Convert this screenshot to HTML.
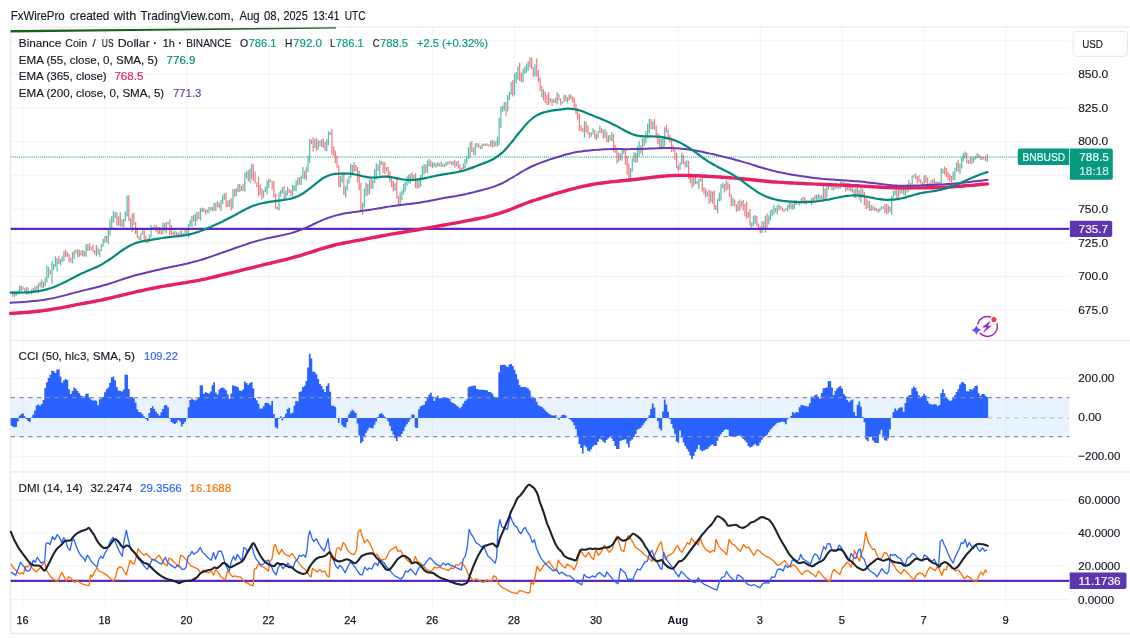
<!DOCTYPE html>
<html lang="en"><head><meta charset="utf-8"><title>BNBUSD chart</title>
<style>html,body{margin:0;padding:0;background:#fff}body{width:1130px;height:638px;overflow:hidden}svg{display:block}</style>
</head><body>
<svg width="1130" height="638" viewBox="0 0 1130 638" font-family="'Liberation Sans', sans-serif">
<rect width="1130" height="638" fill="#fff"/>
<g stroke="#f2f3f6" stroke-width="1" shape-rendering="auto">
<line x1="23.0" y1="27" x2="23.0" y2="605.5"/>
<line x1="104.9" y1="27" x2="104.9" y2="605.5"/>
<line x1="186.8" y1="27" x2="186.8" y2="605.5"/>
<line x1="268.8" y1="27" x2="268.8" y2="605.5"/>
<line x1="350.7" y1="27" x2="350.7" y2="605.5"/>
<line x1="432.6" y1="27" x2="432.6" y2="605.5"/>
<line x1="514.5" y1="27" x2="514.5" y2="605.5"/>
<line x1="596.4" y1="27" x2="596.4" y2="605.5"/>
<line x1="678.4" y1="27" x2="678.4" y2="605.5"/>
<line x1="760.3" y1="27" x2="760.3" y2="605.5"/>
<line x1="842.2" y1="27" x2="842.2" y2="605.5"/>
<line x1="924.1" y1="27" x2="924.1" y2="605.5"/>
<line x1="1006.0" y1="27" x2="1006.0" y2="605.5"/>
<line x1="10.6" y1="40.25" x2="1069.3" y2="40.25"/>
<line x1="10.6" y1="74.00" x2="1069.3" y2="74.00"/>
<line x1="10.6" y1="107.75" x2="1069.3" y2="107.75"/>
<line x1="10.6" y1="141.50" x2="1069.3" y2="141.50"/>
<line x1="10.6" y1="175.25" x2="1069.3" y2="175.25"/>
<line x1="10.6" y1="209.00" x2="1069.3" y2="209.00"/>
<line x1="10.6" y1="242.75" x2="1069.3" y2="242.75"/>
<line x1="10.6" y1="276.50" x2="1069.3" y2="276.50"/>
<line x1="10.6" y1="310.25" x2="1069.3" y2="310.25"/>
<line x1="10.6" y1="378.3" x2="1069.3" y2="378.3"/>
<line x1="10.6" y1="456.3" x2="1069.3" y2="456.3"/>
<line x1="10.6" y1="500.0" x2="1069.3" y2="500.0"/>
<line x1="10.6" y1="533.3" x2="1069.3" y2="533.3"/>
<line x1="10.6" y1="566.2" x2="1069.3" y2="566.2"/>
<line x1="10.6" y1="599.5" x2="1069.3" y2="599.5"/>
</g>
<g stroke="#e9eaee" stroke-width="1.2">
<line x1="10.6" y1="27" x2="1130" y2="27"/>
<line x1="10.6" y1="27" x2="10.6" y2="633.7"/>
<line x1="10.6" y1="340.3" x2="1130" y2="340.3"/>
<line x1="10.6" y1="471.9" x2="1130" y2="471.9"/>
<line x1="10.6" y1="633.7" x2="1130" y2="633.7"/>
</g>
<line x1="10.6" y1="157" x2="1017.5" y2="157" stroke="#089981" stroke-width="1.2" stroke-dasharray="1.05 1.05" opacity="1"/>
<path d="M12.76,291.5V296.5M16.17,292.0V295.9M17.88,290.6V294.8M19.59,285.7V293.3M21.29,285.6V291.1M26.41,287.1V294.8M29.83,291.2V294.1M31.53,289.0V294.6M34.95,286.5V292.9M38.36,283.5V293.4M40.07,281.5V287.0M43.48,281.8V288.1M45.19,277.3V286.1M46.89,265.7V282.4M48.60,267.2V277.8M52.01,261.3V283.8M53.72,263.9V270.1M55.43,256.2V266.7M57.13,258.0V271.5M60.55,259.0V265.4M62.25,256.5V262.0M63.96,251.1V261.1M72.49,252.1V263.6M74.20,250.3V258.7M79.32,249.7V256.8M82.73,250.0V256.6M86.15,244.1V256.7M87.85,244.3V251.1M96.39,245.0V256.2M99.80,249.2V256.9M101.51,244.1V251.0M103.21,238.7V246.5M104.92,235.9V242.8M108.33,228.2V244.3M110.04,219.3V235.5M111.75,216.3V227.9M113.45,211.1V222.7M115.16,212.3V218.1M120.28,212.2V226.6M123.69,219.1V227.4M125.40,211.3V221.3M127.11,195.5V216.4M132.23,213.8V231.8M140.76,232.9V242.0M142.47,230.5V234.4M149.29,234.6V242.2M151.00,225.1V237.8M152.71,226.9V229.6M154.41,225.2V227.6M159.53,227.1V233.9M162.95,222.5V234.1M166.36,222.1V233.3M168.07,222.3V224.6M174.89,230.8V235.4M180.01,230.9V235.6M183.43,233.3V236.1M185.13,229.3V236.5M188.55,223.7V237.4M190.25,219.7V226.4M191.96,215.9V227.0M195.37,213.5V226.1M197.08,211.7V220.9M200.49,208.3V220.4M202.20,207.4V212.0M207.32,209.6V212.7M209.03,206.8V213.2M212.44,206.8V211.4M214.15,202.6V210.8M217.56,201.1V207.2M220.97,199.9V211.0M222.68,194.8V204.0M224.39,193.3V199.8M229.51,199.8V206.8M232.92,189.1V208.5M236.33,188.0V196.1M238.04,184.1V192.2M241.45,185.7V191.1M244.87,172.7V191.7M246.57,171.3V178.4M249.99,168.4V183.2M251.69,163.6V179.6M263.64,190.4V197.7M265.35,186.7V192.0M267.05,180.5V194.7M268.76,178.8V188.0M279.00,192.3V210.5M280.71,190.1V196.4M282.41,187.0V193.4M285.83,190.4V199.0M287.53,186.7V195.4M292.65,185.1V196.2M294.36,185.5V190.9M296.07,180.4V191.6M297.77,177.5V185.8M301.19,175.5V185.1M302.89,166.8V178.7M306.31,167.1V180.6M308.01,155.5V172.3M309.72,138.7V163.2M314.84,138.8V148.2M318.25,140.3V149.6M321.67,139.3V146.9M326.79,139.1V151.2M328.49,131.3V145.3M330.20,132.0V134.9M340.44,175.9V187.2M342.15,174.7V182.6M345.56,186.0V197.7M347.27,179.2V190.5M348.97,175.9V183.7M350.68,163.8V178.1M354.09,162.3V172.2M362.63,202.8V214.7M364.33,188.8V207.6M366.04,182.4V196.3M369.45,179.8V194.6M372.87,179.7V188.8M374.57,169.2V183.3M376.28,163.1V179.6M379.69,160.6V175.3M381.40,160.8V165.0M386.52,166.9V171.5M395.05,183.3V190.7M400.17,192.4V204.9M401.88,190.2V200.2M403.59,183.7V194.5M405.29,181.9V191.6M407.00,176.2V185.9M408.71,174.4V183.6M410.41,173.7V183.6M413.83,174.8V180.6M418.95,178.5V188.1M420.65,175.1V186.5M422.36,165.6V178.6M424.07,164.0V174.8M427.48,160.5V173.3M429.19,158.8V166.2M432.60,162.2V168.1M436.01,163.2V167.7M437.72,162.1V166.7M441.13,161.6V167.1M444.55,163.7V167.0M446.25,161.7V165.7M447.96,161.4V164.9M453.08,161.1V165.8M456.49,161.8V166.2M463.32,163.5V169.3M465.03,159.1V168.6M466.73,156.3V163.7M468.44,147.2V159.0M470.15,141.9V157.2M475.27,143.2V155.3M476.97,143.0V147.6M482.09,143.5V149.1M485.51,143.4V146.0M490.63,140.7V146.6M494.04,140.7V146.8M497.45,136.8V146.4M499.16,117.7V144.9M500.87,106.6V128.1M502.57,105.7V112.0M504.28,102.0V110.7M507.69,94.9V111.5M509.40,91.8V100.1M511.11,82.2V94.7M514.52,74.0V95.1M516.23,72.1V83.6M517.93,66.4V79.8M523.05,68.6V82.4M524.76,66.4V73.8M526.47,63.4V72.8M528.17,61.2V70.9M535.00,64.2V76.2M543.53,89.1V100.2M550.36,98.3V102.6M553.77,99.6V102.9M557.19,91.9V104.5M562.31,101.4V103.7M564.01,94.8V102.3M567.43,97.2V103.3M570.84,94.3V99.3M584.49,121.1V137.4M591.32,132.3V136.7M593.03,128.3V134.3M598.15,131.1V138.0M599.85,125.6V132.9M604.97,129.0V138.0M608.39,135.3V142.4M611.80,132.2V141.3M618.63,152.5V161.7M622.04,149.6V160.7M623.75,150.3V153.9M630.57,167.9V182.1M632.28,158.2V171.4M633.99,151.9V162.0M637.40,146.1V162.5M639.11,141.3V156.2M642.52,138.3V155.7M644.23,138.2V146.2M645.93,131.0V143.3M647.64,123.4V138.3M649.35,118.9V133.6M652.76,121.6V129.8M661.29,138.9V149.4M663.00,136.5V147.4M664.71,127.2V146.3M680.07,162.2V170.1M681.77,152.7V164.6M686.89,160.2V167.6M693.72,177.6V186.1M697.13,181.0V184.3M698.84,178.4V189.2M700.55,178.5V181.5M707.37,191.4V196.6M710.79,190.8V202.2M717.61,198.8V213.2M719.32,192.5V201.3M721.03,184.1V200.6M722.73,182.4V188.6M726.15,180.3V190.4M732.97,197.4V205.9M738.09,201.1V211.1M741.51,201.0V207.3M748.33,211.8V217.8M751.75,222.4V227.7M753.45,215.7V225.9M755.16,215.1V223.7M761.99,221.2V233.0M765.40,215.7V232.4M768.81,215.4V224.6M770.52,210.3V220.6M772.23,209.3V216.0M773.93,205.1V214.6M777.35,205.4V214.5M779.05,204.6V210.4M785.88,208.1V210.6M787.59,205.2V211.6M789.29,202.5V208.7M792.71,203.7V209.8M794.41,200.2V208.8M796.12,200.6V205.1M799.53,201.1V205.6M801.24,198.3V203.8M808.07,199.9V203.3M811.48,198.2V205.3M813.19,197.3V201.8M816.60,194.7V200.9M818.31,194.2V199.4M823.43,185.1V199.8M826.84,184.5V197.5M828.55,183.7V189.7M830.25,184.0V187.1M833.67,187.1V190.2M835.37,182.9V188.4M838.79,184.2V188.8M840.49,181.4V188.3M842.20,181.9V184.6M847.32,183.4V190.3M850.73,186.1V191.3M855.85,188.2V198.6M857.56,186.6V195.8M860.97,187.2V202.8M867.80,200.5V208.3M871.21,204.9V211.1M876.33,207.9V211.3M879.75,208.5V211.7M881.45,206.0V209.4M883.16,206.4V208.8M888.28,205.3V213.3M891.69,196.1V214.8M893.40,191.0V197.6M895.11,189.7V195.3M898.52,189.6V198.8M901.93,189.0V193.5M905.35,188.4V195.7M907.05,184.2V192.8M910.47,182.9V190.1M912.17,175.5V187.7M913.88,174.4V177.5M924.12,175.6V187.3M930.95,180.3V189.2M936.07,181.3V188.9M939.48,181.8V188.4M941.19,167.8V184.3M942.89,168.8V173.4M953.13,171.5V180.7M954.84,167.7V179.9M956.55,162.3V171.6M959.96,163.5V174.3M961.67,156.9V168.4M963.37,153.1V161.5M965.08,151.6V158.6M970.20,157.0V163.5M973.61,157.2V162.7M975.32,156.1V159.4M977.03,153.3V158.5M982.15,156.8V160.2M987.27,153.9V162.2" stroke="#089981" stroke-width="1.25" fill="none" opacity=".66"/>
<path d="M14.47,290.7V297.2M23.00,286.5V289.7M24.71,288.2V292.6M28.12,287.5V294.4M33.24,287.9V293.0M36.65,286.0V289.7M41.77,279.3V287.9M50.31,270.2V274.6M58.84,255.7V264.1M65.67,249.5V257.1M67.37,251.9V256.7M69.08,254.0V262.3M70.79,257.5V262.5M75.91,249.8V253.7M77.61,249.3V257.3M81.03,250.5V255.5M84.44,250.9V256.5M89.56,243.6V250.4M91.27,246.7V250.1M92.97,244.5V252.3M94.68,250.2V254.3M98.09,247.4V254.6M106.63,235.8V242.3M116.87,212.3V225.4M118.57,216.3V225.9M121.99,219.5V227.0M128.81,195.3V220.9M130.52,217.8V227.3M133.93,212.7V224.9M135.64,222.0V234.1M137.35,230.0V237.9M139.05,236.2V240.3M144.17,229.4V240.9M145.88,235.5V242.9M147.59,238.5V243.2M156.12,224.8V232.0M157.83,226.6V234.4M161.24,227.7V234.6M164.65,222.9V231.2M169.77,219.4V235.8M171.48,225.1V234.9M173.19,231.4V237.4M176.60,231.4V235.8M178.31,232.8V236.3M181.72,229.2V236.2M186.84,227.7V235.5M193.67,215.1V221.7M198.79,211.8V219.1M203.91,208.1V212.2M205.61,209.6V214.7M210.73,207.1V210.6M215.85,203.1V211.3M219.27,202.8V208.5M226.09,192.5V207.1M227.80,200.4V207.2M231.21,198.3V210.6M234.63,189.1V196.8M239.75,183.8V192.1M243.16,184.1V190.8M248.28,170.0V181.6M253.40,164.2V181.1M255.11,171.8V183.4M256.81,182.5V187.3M258.52,176.4V196.6M260.23,184.6V195.1M261.93,188.3V199.4M270.47,179.8V182.2M272.17,181.0V189.3M273.88,181.1V197.5M275.59,193.2V208.7M277.29,207.1V209.5M284.12,186.1V199.3M289.24,188.7V193.0M290.95,190.0V196.2M299.48,177.0V184.8M304.60,170.6V179.2M311.43,139.5V144.3M313.13,137.5V151.5M316.55,138.0V151.1M319.96,140.6V146.0M323.37,138.5V147.9M325.08,141.8V151.0M331.91,129.0V154.7M333.61,146.3V155.9M335.32,150.4V163.3M337.03,155.8V167.7M338.73,165.2V187.3M343.85,172.1V195.1M352.39,165.1V174.9M355.80,165.1V171.2M357.51,167.3V182.5M359.21,170.7V190.0M360.92,182.9V212.3M367.75,183.8V195.6M371.16,178.9V189.3M377.99,164.5V171.0M383.11,161.7V172.8M384.81,162.2V173.9M388.23,166.9V177.9M389.93,171.2V182.1M391.64,176.6V187.2M393.35,180.9V191.4M396.76,177.0V198.7M398.47,196.0V204.9M412.12,172.2V179.8M415.53,173.2V188.0M417.24,180.3V188.8M425.77,164.3V172.7M430.89,160.6V167.0M434.31,162.3V166.5M439.43,163.2V166.2M442.84,163.6V166.9M449.67,160.7V163.4M451.37,162.1V164.7M454.79,159.8V168.1M458.20,161.1V168.4M459.91,164.3V170.2M461.61,167.6V170.0M471.85,141.0V151.9M473.56,147.4V154.9M478.68,143.2V147.7M480.39,145.9V149.3M483.80,143.7V145.9M487.21,143.5V145.9M488.92,144.2V146.6M492.33,139.4V147.8M495.75,141.5V146.3M505.99,101.7V115.8M512.81,79.9V96.5M519.64,62.7V81.0M521.35,72.4V82.2M529.88,57.5V67.6M531.59,57.8V69.0M533.29,67.1V76.7M536.71,58.6V76.4M538.41,70.0V82.2M540.12,77.4V91.2M541.83,85.8V97.3M545.24,91.7V103.1M546.95,94.8V104.9M548.65,92.0V104.9M552.07,98.6V106.1M555.48,97.4V103.1M558.89,93.9V100.3M560.60,98.2V105.0M565.72,95.0V101.1M569.13,94.4V100.7M572.55,96.4V102.6M574.25,97.4V107.7M575.96,103.5V114.0M577.67,108.7V119.7M579.37,113.8V130.7M581.08,124.9V131.3M582.79,128.0V132.5M586.20,122.0V132.5M587.91,125.4V134.8M589.61,132.3V138.3M594.73,130.0V138.6M596.44,133.9V140.0M601.56,127.7V133.0M603.27,129.4V138.8M606.68,131.4V141.9M610.09,135.0V140.8M613.51,133.9V151.4M615.21,144.7V153.1M616.92,147.5V163.5M620.33,153.2V160.3M625.45,149.5V165.1M627.16,155.8V174.8M628.87,163.6V181.8M635.69,153.1V163.0M640.81,145.6V153.5M651.05,119.0V129.1M654.47,118.8V129.4M656.17,125.5V138.2M657.88,133.1V144.3M659.59,135.1V147.8M666.41,124.9V132.4M668.12,129.6V139.9M669.83,134.9V142.8M671.53,140.2V152.1M673.24,144.7V151.6M674.95,148.0V159.9M676.65,153.0V168.5M678.36,165.2V171.4M683.48,154.7V164.0M685.19,161.2V167.2M688.60,160.7V178.9M690.31,175.8V183.1M692.01,176.2V188.3M695.43,176.5V184.2M702.25,175.8V191.4M703.96,187.0V194.4M705.67,188.4V197.4M709.08,189.8V203.7M712.49,191.4V203.8M714.20,190.4V209.5M715.91,204.8V210.1M724.44,183.9V192.5M727.85,181.6V189.4M729.56,184.1V196.8M731.27,193.9V206.5M734.68,199.4V206.3M736.39,204.2V211.9M739.80,199.4V210.7M743.21,199.9V210.6M744.92,203.7V216.5M746.63,201.5V218.7M750.04,208.9V226.2M756.87,216.1V226.6M758.57,223.6V228.8M760.28,226.5V233.3M763.69,221.6V229.7M767.11,213.4V227.7M775.64,208.1V212.6M780.76,205.8V209.3M782.47,207.6V211.3M784.17,209.2V212.0M791.00,202.4V209.3M797.83,201.2V204.6M802.95,196.8V200.9M804.65,197.4V204.3M806.36,199.9V204.4M809.77,200.7V203.1M814.89,195.0V202.3M820.01,195.0V200.2M821.72,195.5V199.1M825.13,188.8V199.1M831.96,182.9V190.2M837.08,184.1V188.8M843.91,182.2V187.4M845.61,183.3V191.6M849.03,183.1V190.5M852.44,186.7V192.7M854.15,189.4V198.1M859.27,190.0V199.3M862.68,188.5V197.0M864.39,191.7V205.3M866.09,195.8V209.0M869.51,200.7V211.1M872.92,205.5V210.2M874.63,207.1V211.1M878.04,209.0V213.1M884.87,203.9V213.1M886.57,203.8V214.4M889.99,206.7V212.0M896.81,188.7V198.0M900.23,189.1V194.3M903.64,186.6V195.0M908.76,179.7V191.4M915.59,173.4V178.9M917.29,176.1V183.6M919.00,175.2V181.9M920.71,179.2V183.4M922.41,182.0V185.4M925.83,175.0V182.7M927.53,177.4V184.7M929.24,183.0V188.1M932.65,179.5V186.8M934.36,178.4V189.6M937.77,181.8V189.7M944.60,166.6V174.6M946.31,168.1V177.1M948.01,171.7V180.2M949.72,174.0V181.5M951.43,176.0V182.4M958.25,159.8V172.1M966.79,152.6V163.3M968.49,159.7V163.8M971.91,156.3V164.1M978.73,154.1V157.7M980.44,155.7V159.8M983.85,156.8V159.5M985.56,156.1V161.1" stroke="#f23645" stroke-width="1.25" fill="none" opacity=".66"/>
<line x1="10.6" y1="228.9" x2="1069.3" y2="228.9" stroke="#5b2bb8" stroke-width="2.3"/>
<path d="M10.6,313.4C11.4,313.3 13.9,313.2 15.6,313.1C17.3,313.0 18.9,312.9 20.6,312.8C22.3,312.7 23.9,312.5 25.6,312.4C27.3,312.3 28.9,312.1 30.6,312.0C32.3,311.9 34.0,311.7 35.6,311.5C37.3,311.4 39.0,311.2 40.6,311.0C42.3,310.8 44.0,310.5 45.6,310.3C47.3,310.1 49.0,309.8 50.7,309.5C52.3,309.3 54.0,309.0 55.7,308.7C57.3,308.4 59.0,308.1 60.7,307.8C62.3,307.5 64.0,307.1 65.7,306.8C67.4,306.5 69.0,306.1 70.7,305.8C72.4,305.5 74.0,305.2 75.7,304.9C77.4,304.6 79.0,304.2 80.7,303.9C82.4,303.6 84.1,303.3 85.7,303.0C87.4,302.7 89.1,302.4 90.7,302.1C92.4,301.7 94.1,301.4 95.7,301.1C97.4,300.8 99.1,300.4 100.8,300.1C102.4,299.8 104.1,299.4 105.8,299.0C107.4,298.7 109.1,298.3 110.8,297.9C112.4,297.5 114.1,297.1 115.8,296.7C117.5,296.3 119.1,295.9 120.8,295.5C122.5,295.1 124.1,294.7 125.8,294.3C127.5,293.9 129.1,293.5 130.8,293.1C132.5,292.7 134.2,292.3 135.8,291.9C137.5,291.5 139.2,291.2 140.8,290.8C142.5,290.4 144.2,290.1 145.8,289.7C147.5,289.4 149.2,289.0 150.9,288.7C152.5,288.4 154.2,288.0 155.9,287.7C157.5,287.4 159.2,287.0 160.9,286.7C162.5,286.4 164.2,286.1 165.9,285.8C167.6,285.5 169.2,285.2 170.9,285.0C172.6,284.7 174.2,284.4 175.9,284.1C177.6,283.9 179.2,283.6 180.9,283.3C182.6,283.1 184.3,282.8 185.9,282.6C187.6,282.3 189.3,282.0 190.9,281.7C192.6,281.4 194.3,281.1 195.9,280.8C197.6,280.5 199.3,280.2 201.0,279.8C202.6,279.5 204.3,279.1 206.0,278.8C207.6,278.4 209.3,278.0 211.0,277.7C212.6,277.3 214.3,276.9 216.0,276.5C217.7,276.1 219.3,275.7 221.0,275.2C222.7,274.8 224.3,274.4 226.0,274.0C227.7,273.6 229.3,273.2 231.0,272.8C232.7,272.4 234.4,272.0 236.0,271.6C237.7,271.2 239.4,270.7 241.0,270.3C242.7,269.9 244.4,269.5 246.0,269.1C247.7,268.7 249.4,268.3 251.1,267.9C252.7,267.5 254.4,267.1 256.1,266.6C257.7,266.2 259.4,265.8 261.1,265.4C262.7,265.0 264.4,264.6 266.1,264.2C267.8,263.8 269.4,263.4 271.1,263.0C272.8,262.6 274.4,262.2 276.1,261.8C277.8,261.4 279.4,261.0 281.1,260.6C282.8,260.2 284.5,259.8 286.1,259.4C287.8,259.0 289.5,258.5 291.1,258.1C292.8,257.6 294.5,257.2 296.1,256.7C297.8,256.3 299.5,255.8 301.2,255.3C302.8,254.8 304.5,254.3 306.2,253.7C307.8,253.2 309.5,252.7 311.2,252.2C312.8,251.6 314.5,251.0 316.2,250.5C317.9,250.0 319.5,249.4 321.2,248.9C322.9,248.4 324.5,247.9 326.2,247.4C327.9,246.9 329.5,246.4 331.2,246.0C332.9,245.6 334.6,245.1 336.2,244.7C337.9,244.3 339.6,244.0 341.2,243.6C342.9,243.3 344.6,242.9 346.2,242.6C347.9,242.3 349.6,242.0 351.3,241.6C352.9,241.3 354.6,241.0 356.3,240.7C357.9,240.4 359.6,240.1 361.3,239.8C362.9,239.5 364.6,239.2 366.3,238.9C368.0,238.6 369.6,238.3 371.3,237.9C373.0,237.6 374.6,237.3 376.3,237.0C378.0,236.7 379.6,236.4 381.3,236.0C383.0,235.7 384.7,235.4 386.3,235.1C388.0,234.8 389.7,234.5 391.3,234.2C393.0,233.9 394.7,233.6 396.3,233.3C398.0,233.0 399.7,232.7 401.4,232.5C403.0,232.2 404.7,231.9 406.4,231.6C408.0,231.4 409.7,231.1 411.4,230.8C413.0,230.5 414.7,230.3 416.4,230.0C418.1,229.7 419.7,229.4 421.4,229.1C423.1,228.8 424.7,228.5 426.4,228.2C428.1,227.9 429.8,227.6 431.4,227.3C433.1,227.0 434.8,226.7 436.4,226.4C438.1,226.1 439.8,225.8 441.4,225.5C443.1,225.2 444.8,224.9 446.5,224.6C448.1,224.3 449.8,224.0 451.5,223.7C453.1,223.4 454.8,223.1 456.5,222.8C458.1,222.5 459.8,222.2 461.5,221.9C463.2,221.5 464.8,221.2 466.5,220.9C468.2,220.6 469.8,220.3 471.5,220.0C473.2,219.6 474.8,219.3 476.5,219.0C478.2,218.6 479.9,218.3 481.5,217.9C483.2,217.6 484.9,217.2 486.5,216.8C488.2,216.4 489.9,216.0 491.5,215.6C493.2,215.1 494.9,214.7 496.6,214.2C498.2,213.7 499.9,213.2 501.6,212.6C503.2,212.1 504.9,211.5 506.6,210.9C508.2,210.3 509.9,209.6 511.6,209.0C513.3,208.3 514.9,207.6 516.6,206.9C518.3,206.2 519.9,205.5 521.6,204.9C523.3,204.2 524.9,203.6 526.6,203.0C528.3,202.4 530.0,201.8 531.6,201.2C533.3,200.6 535.0,200.0 536.6,199.5C538.3,198.9 540.0,198.4 541.6,197.9C543.3,197.3 545.0,196.8 546.7,196.3C548.3,195.8 550.0,195.3 551.7,194.8C553.3,194.4 555.0,193.9 556.7,193.4C558.3,193.0 560.0,192.4 561.7,191.9C563.4,191.4 565.0,190.9 566.7,190.5C568.4,190.0 570.0,189.5 571.7,189.1C573.4,188.6 575.0,188.2 576.7,187.8C578.4,187.4 580.1,187.0 581.7,186.6C583.4,186.3 585.1,185.9 586.7,185.6C588.4,185.2 590.1,184.9 591.7,184.6C593.4,184.3 595.1,184.0 596.8,183.7C598.4,183.5 600.1,183.2 601.8,183.0C603.4,182.8 605.1,182.6 606.8,182.4C608.4,182.2 610.1,182.0 611.8,181.8C613.5,181.7 615.1,181.5 616.8,181.3C618.5,181.1 620.1,181.0 621.8,180.8C623.5,180.7 625.1,180.5 626.8,180.3C628.5,180.1 630.2,180.0 631.8,179.8C633.5,179.6 635.2,179.4 636.8,179.2C638.5,179.0 640.2,178.8 641.8,178.6C643.5,178.4 645.2,178.2 646.9,178.0C648.5,177.8 650.2,177.6 651.9,177.4C653.5,177.2 655.2,177.0 656.9,176.8C658.5,176.6 660.2,176.5 661.9,176.3C663.6,176.2 665.2,176.0 666.9,175.9C668.6,175.8 670.2,175.7 671.9,175.6C673.6,175.5 675.2,175.5 676.9,175.4C678.6,175.4 680.3,175.4 681.9,175.4C683.6,175.4 685.3,175.4 686.9,175.4C688.6,175.4 690.3,175.5 691.9,175.5C693.6,175.6 695.3,175.7 697.0,175.7C698.6,175.8 700.3,175.9 702.0,176.0C703.6,176.1 705.3,176.2 707.0,176.3C708.6,176.4 710.3,176.5 712.0,176.6C713.7,176.7 715.3,176.8 717.0,176.9C718.7,177.0 720.3,177.1 722.0,177.2C723.7,177.3 725.3,177.4 727.0,177.5C728.7,177.6 730.4,177.7 732.0,177.9C733.7,178.0 735.4,178.1 737.0,178.3C738.7,178.4 740.4,178.6 742.0,178.7C743.7,178.9 745.4,179.0 747.1,179.2C748.7,179.4 750.4,179.6 752.1,179.7C753.7,179.9 755.4,180.1 757.1,180.3C758.7,180.4 760.4,180.6 762.1,180.8C763.8,180.9 765.4,181.1 767.1,181.2C768.8,181.4 770.4,181.5 772.1,181.7C773.8,181.8 775.4,181.9 777.1,182.1C778.8,182.2 780.5,182.3 782.1,182.4C783.8,182.5 785.5,182.6 787.1,182.7C788.8,182.8 790.5,182.9 792.1,183.0C793.8,183.1 795.5,183.1 797.2,183.2C798.8,183.3 800.5,183.4 802.2,183.4C803.8,183.5 805.5,183.6 807.2,183.7C808.8,183.7 810.5,183.8 812.2,183.9C813.9,183.9 815.5,184.0 817.2,184.1C818.9,184.1 820.5,184.2 822.2,184.3C823.9,184.3 825.5,184.4 827.2,184.5C828.9,184.5 830.6,184.6 832.2,184.7C833.9,184.7 835.6,184.8 837.2,184.9C838.9,184.9 840.6,185.0 842.2,185.1C843.9,185.2 845.6,185.2 847.3,185.3C848.9,185.4 850.6,185.5 852.3,185.6C853.9,185.7 855.6,185.8 857.3,185.8C858.9,185.9 860.6,186.0 862.3,186.1C864.0,186.2 865.6,186.3 867.3,186.4C869.0,186.5 870.6,186.6 872.3,186.7C874.0,186.8 875.6,186.9 877.3,187.0C879.0,187.1 880.7,187.2 882.3,187.3C884.0,187.3 885.7,187.4 887.3,187.5C889.0,187.5 890.7,187.6 892.3,187.7C894.0,187.7 895.7,187.8 897.4,187.8C899.0,187.8 900.7,187.9 902.4,187.9C904.0,187.9 905.7,187.9 907.4,187.9C909.0,187.9 910.7,187.9 912.4,187.9C914.1,187.9 915.7,187.9 917.4,187.9C919.1,187.9 920.7,187.9 922.4,187.9C924.1,187.9 925.7,187.8 927.4,187.8C929.1,187.8 930.8,187.7 932.4,187.7C934.1,187.6 935.8,187.6 937.4,187.5C939.1,187.5 940.8,187.4 942.4,187.3C944.1,187.3 945.8,187.2 947.5,187.1C949.1,187.0 950.8,186.9 952.5,186.8C954.1,186.7 955.8,186.5 957.5,186.4C959.1,186.3 960.8,186.1 962.5,186.0C964.2,185.9 965.8,185.7 967.5,185.6C969.2,185.5 970.8,185.3 972.5,185.2C974.2,185.0 975.8,184.9 977.5,184.7C979.2,184.6 980.9,184.4 982.5,184.3C984.2,184.2 986.7,184.0 987.5,183.9" stroke="#e91e63" stroke-width="3.4" fill="none" stroke-linecap="round" stroke-linejoin="round"/>
<path d="M10.6,302.8C11.4,302.7 13.9,302.6 15.6,302.5C17.3,302.4 18.9,302.3 20.6,302.2C22.3,302.0 23.9,301.9 25.6,301.8C27.3,301.6 28.9,301.5 30.6,301.3C32.3,301.2 34.0,301.0 35.6,300.9C37.3,300.7 39.0,300.5 40.6,300.3C42.3,300.0 44.0,299.8 45.6,299.5C47.3,299.2 49.0,299.0 50.7,298.6C52.3,298.3 54.0,298.0 55.7,297.6C57.3,297.2 59.0,296.8 60.7,296.4C62.3,295.9 64.0,295.5 65.7,295.1C67.4,294.6 69.0,294.2 70.7,293.7C72.4,293.3 74.0,292.9 75.7,292.4C77.4,292.0 79.0,291.6 80.7,291.1C82.4,290.7 84.1,290.3 85.7,289.9C87.4,289.5 89.1,289.1 90.7,288.7C92.4,288.3 94.1,287.9 95.7,287.5C97.4,287.1 99.1,286.7 100.8,286.2C102.4,285.8 104.1,285.3 105.8,284.8C107.4,284.3 109.1,283.8 110.8,283.2C112.4,282.7 114.1,282.2 115.8,281.6C117.5,281.0 119.1,280.4 120.8,279.9C122.5,279.3 124.1,278.8 125.8,278.2C127.5,277.7 129.1,277.2 130.8,276.7C132.5,276.2 134.2,275.8 135.8,275.3C137.5,274.8 139.2,274.4 140.8,274.0C142.5,273.6 144.2,273.1 145.8,272.7C147.5,272.3 149.2,271.9 150.9,271.5C152.5,271.1 154.2,270.7 155.9,270.3C157.5,269.9 159.2,269.5 160.9,269.2C162.5,268.8 164.2,268.4 165.9,268.1C167.6,267.7 169.2,267.3 170.9,267.0C172.6,266.6 174.2,266.3 175.9,266.0C177.6,265.6 179.2,265.3 180.9,264.9C182.6,264.6 184.3,264.2 185.9,263.8C187.6,263.4 189.3,263.1 190.9,262.6C192.6,262.2 194.3,261.8 195.9,261.3C197.6,260.8 199.3,260.4 201.0,259.9C202.6,259.4 204.3,258.8 206.0,258.3C207.6,257.8 209.3,257.2 211.0,256.6C212.6,256.1 214.3,255.5 216.0,254.9C217.7,254.3 219.3,253.7 221.0,253.1C222.7,252.6 224.3,252.0 226.0,251.4C227.7,250.8 229.3,250.2 231.0,249.6C232.7,249.0 234.4,248.4 236.0,247.8C237.7,247.2 239.4,246.6 241.0,246.1C242.7,245.5 244.4,244.9 246.0,244.4C247.7,243.8 249.4,243.3 251.1,242.7C252.7,242.2 254.4,241.7 256.1,241.2C257.7,240.8 259.4,240.3 261.1,239.9C262.7,239.4 264.4,239.0 266.1,238.6C267.8,238.2 269.4,237.9 271.1,237.5C272.8,237.2 274.4,236.8 276.1,236.5C277.8,236.1 279.4,235.8 281.1,235.4C282.8,235.1 284.5,234.8 286.1,234.4C287.8,234.0 289.5,233.5 291.1,233.1C292.8,232.6 294.5,232.1 296.1,231.5C297.8,231.0 299.5,230.4 301.2,229.7C302.8,229.1 304.5,228.4 306.2,227.6C307.8,226.9 309.5,226.1 311.2,225.3C312.8,224.5 314.5,223.7 316.2,223.0C317.9,222.2 319.5,221.4 321.2,220.7C322.9,220.0 324.5,219.3 326.2,218.6C327.9,218.0 329.5,217.4 331.2,216.9C332.9,216.3 334.6,215.8 336.2,215.4C337.9,215.0 339.6,214.6 341.2,214.2C342.9,213.8 344.6,213.5 346.2,213.2C347.9,212.9 349.6,212.7 351.3,212.4C352.9,212.2 354.6,211.9 356.3,211.7C357.9,211.5 359.6,211.3 361.3,211.0C362.9,210.8 364.6,210.6 366.3,210.3C368.0,210.1 369.6,209.8 371.3,209.6C373.0,209.3 374.6,209.0 376.3,208.8C378.0,208.5 379.6,208.2 381.3,207.9C383.0,207.6 384.7,207.3 386.3,207.0C388.0,206.8 389.7,206.5 391.3,206.3C393.0,206.0 394.7,205.8 396.3,205.6C398.0,205.4 399.7,205.2 401.4,204.9C403.0,204.7 404.7,204.6 406.4,204.3C408.0,204.1 409.7,204.0 411.4,203.7C413.0,203.5 414.7,203.3 416.4,203.1C418.1,202.8 419.7,202.6 421.4,202.3C423.1,202.0 424.7,201.7 426.4,201.4C428.1,201.2 429.8,200.8 431.4,200.5C433.1,200.2 434.8,199.9 436.4,199.5C438.1,199.2 439.8,198.9 441.4,198.6C443.1,198.2 444.8,197.9 446.5,197.6C448.1,197.3 449.8,197.0 451.5,196.7C453.1,196.5 454.8,196.2 456.5,195.9C458.1,195.5 459.8,195.2 461.5,194.9C463.2,194.6 464.8,194.2 466.5,193.9C468.2,193.5 469.8,193.1 471.5,192.7C473.2,192.3 474.8,191.9 476.5,191.5C478.2,191.1 479.9,190.7 481.5,190.2C483.2,189.8 484.9,189.4 486.5,188.9C488.2,188.4 489.9,188.0 491.5,187.4C493.2,186.9 494.9,186.3 496.6,185.6C498.2,185.0 499.9,184.3 501.6,183.5C503.2,182.7 504.9,181.9 506.6,180.9C508.2,180.0 509.9,179.0 511.6,178.0C513.3,177.0 514.9,176.0 516.6,175.0C518.3,173.9 519.9,172.9 521.6,171.9C523.3,171.0 524.9,170.0 526.6,169.1C528.3,168.2 530.0,167.3 531.6,166.5C533.3,165.8 535.0,165.1 536.6,164.4C538.3,163.7 540.0,163.0 541.6,162.4C543.3,161.8 545.0,161.2 546.7,160.6C548.3,160.0 550.0,159.5 551.7,158.9C553.3,158.4 555.0,157.8 556.7,157.3C558.3,156.7 560.0,156.2 561.7,155.7C563.4,155.2 565.0,154.7 566.7,154.3C568.4,153.9 570.0,153.5 571.7,153.1C573.4,152.7 575.0,152.4 576.7,152.1C578.4,151.8 580.1,151.6 581.7,151.4C583.4,151.1 585.1,150.9 586.7,150.7C588.4,150.5 590.1,150.4 591.7,150.2C593.4,150.0 595.1,149.9 596.8,149.8C598.4,149.6 600.1,149.5 601.8,149.4C603.4,149.3 605.1,149.3 606.8,149.2C608.4,149.2 610.1,149.2 611.8,149.1C613.5,149.1 615.1,149.1 616.8,149.1C618.5,149.1 620.1,149.1 621.8,149.1C623.5,149.1 625.1,149.2 626.8,149.2C628.5,149.2 630.2,149.1 631.8,149.1C633.5,149.1 635.2,149.1 636.8,149.0C638.5,149.0 640.2,148.9 641.8,148.9C643.5,148.8 645.2,148.8 646.9,148.7C648.5,148.6 650.2,148.6 651.9,148.5C653.5,148.4 655.2,148.3 656.9,148.3C658.5,148.2 660.2,148.2 661.9,148.1C663.6,148.1 665.2,148.1 666.9,148.1C668.6,148.0 670.2,148.0 671.9,148.1C673.6,148.1 675.2,148.2 676.9,148.3C678.6,148.4 680.3,148.5 681.9,148.7C683.6,148.8 685.3,149.0 686.9,149.2C688.6,149.4 690.3,149.7 691.9,150.0C693.6,150.2 695.3,150.5 697.0,150.8C698.6,151.2 700.3,151.5 702.0,151.8C703.6,152.2 705.3,152.6 707.0,152.9C708.6,153.3 710.3,153.7 712.0,154.1C713.7,154.4 715.3,154.8 717.0,155.2C718.7,155.6 720.3,156.0 722.0,156.4C723.7,156.8 725.3,157.2 727.0,157.6C728.7,158.0 730.4,158.4 732.0,158.8C733.7,159.3 735.4,159.7 737.0,160.2C738.7,160.6 740.4,161.1 742.0,161.6C743.7,162.1 745.4,162.6 747.1,163.1C748.7,163.6 750.4,164.1 752.1,164.6C753.7,165.1 755.4,165.7 757.1,166.2C758.7,166.7 760.4,167.2 762.1,167.7C763.8,168.2 765.4,168.7 767.1,169.1C768.8,169.6 770.4,170.0 772.1,170.5C773.8,170.9 775.4,171.3 777.1,171.7C778.8,172.1 780.5,172.4 782.1,172.8C783.8,173.1 785.5,173.4 787.1,173.8C788.8,174.1 790.5,174.4 792.1,174.7C793.8,175.0 795.5,175.3 797.2,175.5C798.8,175.8 800.5,176.1 802.2,176.3C803.8,176.6 805.5,176.8 807.2,177.0C808.8,177.3 810.5,177.5 812.2,177.7C813.9,177.9 815.5,178.1 817.2,178.3C818.9,178.5 820.5,178.6 822.2,178.8C823.9,178.9 825.5,179.1 827.2,179.2C828.9,179.3 830.6,179.5 832.2,179.6C833.9,179.7 835.6,179.8 837.2,179.9C838.9,180.0 840.6,180.1 842.2,180.2C843.9,180.3 845.6,180.4 847.3,180.6C848.9,180.7 850.6,180.8 852.3,180.9C853.9,181.1 855.6,181.2 857.3,181.3C858.9,181.5 860.6,181.7 862.3,181.8C864.0,182.0 865.6,182.2 867.3,182.4C869.0,182.6 870.6,182.8 872.3,183.0C874.0,183.2 875.6,183.4 877.3,183.6C879.0,183.8 880.7,184.0 882.3,184.2C884.0,184.4 885.7,184.6 887.3,184.8C889.0,185.0 890.7,185.1 892.3,185.3C894.0,185.4 895.7,185.5 897.4,185.6C899.0,185.6 900.7,185.7 902.4,185.7C904.0,185.8 905.7,185.8 907.4,185.7C909.0,185.7 910.7,185.7 912.4,185.7C914.1,185.6 915.7,185.6 917.4,185.5C919.1,185.5 920.7,185.4 922.4,185.3C924.1,185.3 925.7,185.2 927.4,185.1C929.1,185.0 930.8,185.0 932.4,184.9C934.1,184.8 935.8,184.7 937.4,184.6C939.1,184.6 940.8,184.5 942.4,184.4C944.1,184.3 945.8,184.2 947.5,184.1C949.1,183.9 950.8,183.8 952.5,183.7C954.1,183.6 955.8,183.4 957.5,183.3C959.1,183.1 960.8,183.0 962.5,182.8C964.2,182.6 965.8,182.4 967.5,182.2C969.2,182.0 970.8,181.8 972.5,181.6C974.2,181.4 975.8,181.2 977.5,181.0C979.2,180.8 980.9,180.6 982.5,180.4C984.2,180.2 986.7,179.9 987.5,179.8" stroke="#673ab7" stroke-width="2" fill="none" stroke-linecap="round" stroke-linejoin="round"/>
<path d="M10.6,292.7C11.2,292.7 13.2,292.7 14.6,292.7C15.9,292.7 17.2,292.7 18.6,292.6C19.9,292.6 21.3,292.6 22.6,292.5C23.9,292.5 25.3,292.4 26.6,292.3C27.9,292.3 29.3,292.2 30.6,292.0C31.9,291.9 33.3,291.8 34.6,291.6C35.9,291.5 37.3,291.3 38.6,291.1C39.9,290.9 41.3,290.7 42.6,290.4C43.9,290.1 45.3,289.7 46.6,289.4C47.9,289.0 49.3,288.6 50.6,288.2C51.9,287.7 53.3,287.3 54.6,286.7C56.0,286.2 57.3,285.6 58.6,285.0C60.0,284.4 61.3,283.8 62.6,283.1C64.0,282.5 65.3,281.9 66.6,281.2C68.0,280.5 69.3,279.8 70.6,279.1C72.0,278.4 73.3,277.7 74.6,277.0C76.0,276.3 77.3,275.7 78.6,275.0C80.0,274.4 81.3,273.7 82.6,273.1C84.0,272.5 85.3,271.9 86.7,271.3C88.0,270.7 89.3,270.1 90.7,269.5C92.0,268.9 93.3,268.4 94.7,267.8C96.0,267.2 97.3,266.7 98.7,266.0C100.0,265.3 101.3,264.6 102.7,263.9C104.0,263.1 105.3,262.3 106.7,261.4C108.0,260.6 109.3,259.6 110.7,258.7C112.0,257.8 113.3,256.8 114.7,255.8C116.0,254.8 117.3,253.8 118.7,252.8C120.0,251.8 121.4,250.8 122.7,250.0C124.0,249.1 125.4,248.2 126.7,247.5C128.0,246.7 129.4,245.9 130.7,245.3C132.0,244.6 133.4,244.0 134.7,243.5C136.0,243.0 137.4,242.6 138.7,242.2C140.0,241.9 141.4,241.6 142.7,241.3C144.0,241.0 145.4,240.7 146.7,240.5C148.0,240.3 149.4,240.1 150.7,239.9C152.0,239.7 153.4,239.4 154.7,239.2C156.1,239.0 157.4,238.8 158.7,238.6C160.1,238.3 161.4,238.1 162.7,238.0C164.1,237.8 165.4,237.6 166.7,237.4C168.1,237.3 169.4,237.1 170.7,237.0C172.1,236.8 173.4,236.7 174.7,236.5C176.1,236.4 177.4,236.3 178.7,236.1C180.1,236.0 181.4,235.9 182.7,235.7C184.1,235.5 185.4,235.3 186.7,235.0C188.1,234.8 189.4,234.5 190.8,234.1C192.1,233.8 193.4,233.4 194.8,233.0C196.1,232.6 197.4,232.2 198.8,231.7C200.1,231.2 201.4,230.7 202.8,230.2C204.1,229.6 205.4,229.1 206.8,228.6C208.1,228.0 209.4,227.5 210.8,226.9C212.1,226.3 213.4,225.7 214.8,225.1C216.1,224.5 217.4,223.9 218.8,223.3C220.1,222.7 221.4,222.0 222.8,221.4C224.1,220.7 225.5,220.0 226.8,219.3C228.1,218.6 229.5,217.9 230.8,217.2C232.1,216.5 233.5,215.8 234.8,215.1C236.1,214.3 237.5,213.6 238.8,212.9C240.1,212.1 241.5,211.4 242.8,210.7C244.1,210.0 245.5,209.3 246.8,208.6C248.1,208.0 249.5,207.4 250.8,206.8C252.1,206.2 253.5,205.7 254.8,205.3C256.2,204.8 257.5,204.4 258.8,204.0C260.2,203.6 261.5,203.3 262.8,203.1C264.2,202.8 265.5,202.5 266.8,202.3C268.2,202.1 269.5,201.9 270.8,201.7C272.2,201.5 273.5,201.3 274.8,201.1C276.2,201.0 277.5,200.8 278.8,200.6C280.2,200.5 281.5,200.4 282.8,200.2C284.2,200.0 285.5,199.8 286.8,199.5C288.2,199.3 289.5,198.9 290.9,198.6C292.2,198.2 293.5,197.9 294.9,197.4C296.2,196.9 297.5,196.4 298.9,195.7C300.2,195.1 301.5,194.3 302.9,193.5C304.2,192.6 305.5,191.7 306.9,190.7C308.2,189.7 309.5,188.7 310.9,187.7C312.2,186.6 313.5,185.5 314.9,184.4C316.2,183.3 317.5,182.2 318.9,181.2C320.2,180.2 321.5,179.2 322.9,178.3C324.2,177.5 325.6,176.8 326.9,176.2C328.2,175.6 329.6,175.1 330.9,174.7C332.2,174.3 333.6,174.0 334.9,173.8C336.2,173.6 337.6,173.6 338.9,173.6C340.2,173.5 341.6,173.6 342.9,173.6C344.2,173.6 345.6,173.5 346.9,173.5C348.2,173.5 349.6,173.7 350.9,173.8C352.2,174.0 353.6,174.2 354.9,174.5C356.2,174.7 357.6,175.0 358.9,175.3C360.3,175.6 361.6,176.0 362.9,176.3C364.3,176.6 365.6,177.0 366.9,177.2C368.3,177.5 369.6,177.6 370.9,177.6C372.3,177.6 373.6,177.6 374.9,177.5C376.3,177.4 377.6,177.2 378.9,177.1C380.3,176.9 381.6,176.8 382.9,176.7C384.3,176.6 385.6,176.7 386.9,176.7C388.3,176.8 389.6,177.0 390.9,177.2C392.3,177.4 393.6,177.6 395.0,177.8C396.3,178.1 397.6,178.5 399.0,178.7C400.3,179.0 401.6,179.3 403.0,179.5C404.3,179.7 405.6,179.8 407.0,179.9C408.3,180.0 409.6,180.0 411.0,180.0C412.3,180.0 413.6,179.9 415.0,179.8C416.3,179.6 417.6,179.4 419.0,179.2C420.3,179.0 421.6,178.8 423.0,178.6C424.3,178.3 425.7,178.0 427.0,177.7C428.3,177.4 429.7,177.1 431.0,176.8C432.3,176.6 433.7,176.3 435.0,176.0C436.3,175.7 437.7,175.4 439.0,175.2C440.3,174.9 441.7,174.7 443.0,174.4C444.3,174.2 445.7,174.0 447.0,173.8C448.3,173.6 449.7,173.4 451.0,173.2C452.3,173.0 453.7,172.8 455.0,172.5C456.3,172.3 457.7,172.0 459.0,171.7C460.4,171.4 461.7,171.0 463.0,170.7C464.4,170.3 465.7,169.9 467.0,169.5C468.4,169.1 469.7,168.6 471.0,168.1C472.4,167.6 473.7,167.1 475.0,166.6C476.4,166.0 477.7,165.5 479.0,165.0C480.4,164.5 481.7,164.0 483.0,163.5C484.4,163.0 485.7,162.5 487.0,162.0C488.4,161.4 489.7,160.8 491.0,160.2C492.4,159.5 493.7,158.8 495.1,158.0C496.4,157.1 497.7,156.2 499.1,155.2C500.4,154.2 501.7,153.0 503.1,151.8C504.4,150.5 505.7,149.1 507.1,147.6C508.4,146.1 509.7,144.5 511.1,142.9C512.4,141.3 513.7,139.6 515.1,137.9C516.4,136.2 517.7,134.4 519.1,132.8C520.4,131.1 521.7,129.4 523.1,127.9C524.4,126.3 525.7,124.7 527.1,123.3C528.4,121.9 529.8,120.6 531.1,119.5C532.4,118.3 533.8,117.3 535.1,116.4C536.4,115.5 537.8,114.8 539.1,114.2C540.4,113.5 541.8,113.0 543.1,112.6C544.4,112.2 545.8,111.9 547.1,111.6C548.4,111.3 549.8,111.0 551.1,110.7C552.4,110.5 553.8,110.3 555.1,110.1C556.4,109.9 557.8,109.7 559.1,109.6C560.4,109.4 561.8,109.2 563.1,109.1C564.5,108.9 565.8,108.7 567.1,108.7C568.5,108.6 569.8,108.7 571.1,108.8C572.5,108.9 573.8,109.0 575.1,109.3C576.5,109.5 577.8,109.9 579.1,110.2C580.5,110.6 581.8,111.1 583.1,111.5C584.5,112.0 585.8,112.6 587.1,113.2C588.5,113.7 589.8,114.3 591.1,114.8C592.5,115.4 593.8,115.9 595.2,116.5C596.5,117.0 597.8,117.6 599.2,118.1C600.5,118.7 601.8,119.2 603.2,119.8C604.5,120.4 605.8,121.0 607.2,121.5C608.5,122.1 609.8,122.7 611.2,123.4C612.5,124.0 613.8,124.7 615.2,125.3C616.5,126.0 617.8,126.8 619.2,127.5C620.5,128.2 621.8,129.0 623.2,129.7C624.5,130.4 625.8,131.1 627.2,131.8C628.5,132.5 629.9,133.1 631.2,133.7C632.5,134.2 633.9,134.7 635.2,135.1C636.5,135.5 637.9,135.8 639.2,136.0C640.5,136.2 641.9,136.2 643.2,136.3C644.5,136.4 645.9,136.4 647.2,136.4C648.5,136.4 649.9,136.4 651.2,136.4C652.5,136.4 653.9,136.4 655.2,136.5C656.5,136.5 657.9,136.6 659.2,136.7C660.5,136.8 661.9,137.1 663.2,137.3C664.6,137.5 665.9,137.8 667.2,138.1C668.6,138.4 669.9,138.7 671.2,139.1C672.6,139.5 673.9,140.0 675.2,140.5C676.6,141.0 677.9,141.6 679.2,142.2C680.6,142.9 681.9,143.6 683.2,144.3C684.6,145.0 685.9,145.8 687.2,146.6C688.6,147.5 689.9,148.3 691.2,149.3C692.6,150.2 693.9,151.2 695.2,152.1C696.6,153.1 697.9,154.1 699.3,155.1C700.6,156.1 701.9,157.0 703.3,158.0C704.6,158.9 705.9,159.9 707.3,160.8C708.6,161.7 709.9,162.5 711.3,163.3C712.6,164.1 713.9,164.9 715.3,165.6C716.6,166.4 717.9,167.0 719.3,167.7C720.6,168.4 721.9,169.0 723.3,169.7C724.6,170.4 725.9,171.0 727.3,171.7C728.6,172.4 729.9,173.2 731.3,173.9C732.6,174.7 734.0,175.4 735.3,176.3C736.6,177.1 738.0,178.1 739.3,179.0C740.6,180.0 742.0,180.9 743.3,181.9C744.6,182.9 746.0,183.9 747.3,184.9C748.6,185.9 750.0,186.9 751.3,187.9C752.6,188.8 754.0,189.8 755.3,190.6C756.6,191.5 758.0,192.3 759.3,193.1C760.6,193.9 762.0,194.6 763.3,195.2C764.7,195.9 766.0,196.5 767.3,197.0C768.7,197.5 770.0,198.0 771.3,198.4C772.7,198.9 774.0,199.2 775.3,199.5C776.7,199.8 778.0,200.1 779.3,200.3C780.7,200.6 782.0,200.8 783.3,201.0C784.7,201.1 786.0,201.3 787.3,201.4C788.7,201.5 790.0,201.6 791.3,201.7C792.7,201.8 794.0,201.9 795.3,201.9C796.7,202.0 798.0,202.0 799.4,202.0C800.7,202.1 802.0,202.1 803.4,202.1C804.7,202.0 806.0,202.0 807.4,202.0C808.7,201.9 810.0,201.9 811.4,201.8C812.7,201.7 814.0,201.6 815.4,201.5C816.7,201.3 818.0,201.2 819.4,201.0C820.7,200.8 822.0,200.6 823.4,200.4C824.7,200.2 826.0,200.0 827.4,199.7C828.7,199.5 830.0,199.2 831.4,198.9C832.7,198.6 834.1,198.3 835.4,198.0C836.7,197.8 838.1,197.5 839.4,197.2C840.7,197.0 842.1,196.7 843.4,196.5C844.7,196.3 846.1,196.1 847.4,195.9C848.7,195.7 850.1,195.6 851.4,195.5C852.7,195.4 854.1,195.4 855.4,195.4C856.7,195.5 858.1,195.5 859.4,195.7C860.7,195.8 862.1,196.0 863.4,196.2C864.7,196.4 866.1,196.6 867.4,196.8C868.8,197.1 870.1,197.4 871.4,197.7C872.8,197.9 874.1,198.2 875.4,198.5C876.8,198.7 878.1,198.9 879.4,199.1C880.8,199.3 882.1,199.5 883.4,199.6C884.8,199.7 886.1,199.8 887.4,199.8C888.8,199.8 890.1,199.8 891.4,199.7C892.8,199.7 894.1,199.6 895.4,199.4C896.8,199.3 898.1,199.1 899.4,198.8C900.8,198.6 902.1,198.2 903.5,197.9C904.8,197.6 906.1,197.2 907.5,196.8C908.8,196.4 910.1,196.0 911.5,195.7C912.8,195.3 914.1,194.8 915.5,194.5C916.8,194.1 918.1,193.7 919.5,193.4C920.8,193.1 922.1,192.9 923.5,192.6C924.8,192.4 926.1,192.2 927.5,192.0C928.8,191.8 930.1,191.7 931.5,191.5C932.8,191.3 934.2,191.1 935.5,190.9C936.8,190.6 938.2,190.3 939.5,190.0C940.8,189.7 942.2,189.4 943.5,189.0C944.8,188.7 946.2,188.3 947.5,187.9C948.8,187.4 950.2,186.9 951.5,186.5C952.8,186.0 954.2,185.5 955.5,185.0C956.8,184.5 958.2,184.0 959.5,183.4C960.8,182.8 962.2,182.3 963.5,181.7C964.8,181.1 966.2,180.4 967.5,179.8C968.9,179.2 970.2,178.6 971.5,178.0C972.9,177.4 974.2,176.8 975.5,176.3C976.9,175.7 978.2,175.2 979.5,174.7C980.9,174.2 982.2,173.7 983.5,173.3C984.9,172.8 986.9,172.3 987.5,172.1" stroke="#00897b" stroke-width="2.2" fill="none" stroke-linecap="round" stroke-linejoin="round"/>
<rect x="10.6" y="397.6" width="1058.7" height="39.0" fill="#e8f3fe"/>
<g stroke="#eef0f4" stroke-width="1">
<line x1="23.0" y1="397.6" x2="23.0" y2="436.6" stroke="#dfe8f3"/>
<line x1="104.9" y1="397.6" x2="104.9" y2="436.6" stroke="#dfe8f3"/>
<line x1="186.8" y1="397.6" x2="186.8" y2="436.6" stroke="#dfe8f3"/>
<line x1="268.8" y1="397.6" x2="268.8" y2="436.6" stroke="#dfe8f3"/>
<line x1="350.7" y1="397.6" x2="350.7" y2="436.6" stroke="#dfe8f3"/>
<line x1="432.6" y1="397.6" x2="432.6" y2="436.6" stroke="#dfe8f3"/>
<line x1="514.5" y1="397.6" x2="514.5" y2="436.6" stroke="#dfe8f3"/>
<line x1="596.4" y1="397.6" x2="596.4" y2="436.6" stroke="#dfe8f3"/>
<line x1="678.4" y1="397.6" x2="678.4" y2="436.6" stroke="#dfe8f3"/>
<line x1="760.3" y1="397.6" x2="760.3" y2="436.6" stroke="#dfe8f3"/>
<line x1="842.2" y1="397.6" x2="842.2" y2="436.6" stroke="#dfe8f3"/>
<line x1="924.1" y1="397.6" x2="924.1" y2="436.6" stroke="#dfe8f3"/>
<line x1="1006.0" y1="397.6" x2="1006.0" y2="436.6" stroke="#dfe8f3"/>
</g>
<path d="M10.6,417.9L10.60,425.6L11.91,425.6L11.91,426.6L13.61,426.6L13.61,427.2L15.32,427.2L15.32,427.0L17.03,427.0L17.03,421.5L18.73,421.5L18.73,415.7L20.44,415.7L20.44,413.9L22.15,413.9L22.15,413.6L23.85,413.6L23.85,416.2L25.56,416.2L25.56,419.1L27.27,419.1L27.27,420.9L28.97,420.9L28.97,422.0L30.68,422.0L30.68,417.5L32.39,417.5L32.39,414.5L34.09,414.5L34.09,410.6L35.80,410.6L35.80,405.5L37.51,405.5L37.51,404.5L39.21,404.5L39.21,405.7L40.92,405.7L40.92,404.1L42.63,404.1L42.63,400.1L44.33,400.1L44.33,388.0L46.04,388.0L46.04,382.2L47.75,382.2L47.75,378.1L49.45,378.1L49.45,374.8L51.16,374.8L51.16,370.7L52.87,370.7L52.87,371.0L54.57,371.0L54.57,372.9L56.28,372.9L56.28,369.5L57.99,369.5L57.99,369.5L59.69,369.5L59.69,376.4L61.40,376.4L61.40,382.7L63.11,382.7L63.11,380.3L64.81,380.3L64.81,379.0L66.52,379.0L66.52,380.1L68.23,380.1L68.23,389.3L69.93,389.3L69.93,393.9L71.64,393.9L71.64,391.0L73.35,391.0L73.35,387.6L75.05,387.6L75.05,388.7L76.76,388.7L76.76,390.9L78.47,390.9L78.47,393.3L80.17,393.3L80.17,395.6L81.88,395.6L81.88,396.4L83.59,396.4L83.59,396.6L85.29,396.6L85.29,393.7L87.00,393.7L87.00,393.6L88.71,393.6L88.71,397.6L90.41,397.6L90.41,399.6L92.12,399.6L92.12,400.8L93.83,400.8L93.83,400.3L95.53,400.3L95.53,401.1L97.24,401.1L97.24,405.2L98.95,405.2L98.95,399.2L100.65,399.2L100.65,398.3L102.36,398.3L102.36,396.9L104.07,396.9L104.07,392.3L105.77,392.3L105.77,389.2L107.48,389.2L107.48,387.5L109.19,387.5L109.19,382.7L110.89,382.7L110.89,377.3L112.60,377.3L112.60,376.4L114.31,376.4L114.31,380.2L116.01,380.2L116.01,387.1L117.72,387.1L117.72,390.4L119.43,390.4L119.43,391.0L121.13,391.0L121.13,391.5L122.84,391.5L122.84,389.4L124.55,389.4L124.55,374.4L126.25,374.4L126.25,375.0L127.96,375.0L127.96,388.9L129.67,388.9L129.67,396.9L131.37,396.9L131.37,396.9L133.08,396.9L133.08,398.6L134.79,398.6L134.79,402.6L136.49,402.6L136.49,409.2L138.20,409.2L138.20,412.1L139.91,412.1L139.91,412.3L141.61,412.3L141.61,414.0L143.32,414.0L143.32,416.5L145.03,416.5L145.03,419.0L146.73,419.0L146.73,421.0L148.44,421.0L148.44,413.0L150.15,413.0L150.15,407.9L151.85,407.9L151.85,406.2L153.56,406.2L153.56,409.1L155.27,409.1L155.27,411.7L156.97,411.7L156.97,413.7L158.68,413.7L158.68,415.4L160.39,415.4L160.39,412.3L162.09,412.3L162.09,408.9L163.80,408.9L163.80,405.5L165.51,405.5L165.51,404.9L167.21,404.9L167.21,407.2L168.92,407.2L168.92,418.5L170.63,418.5L170.63,421.9L172.33,421.9L172.33,423.3L174.04,423.3L174.04,424.0L175.75,424.0L175.75,422.8L177.45,422.8L177.45,420.0L179.16,420.0L179.16,421.6L180.87,421.6L180.87,426.5L182.57,426.5L182.57,424.0L184.28,424.0L184.28,421.7L185.99,421.7L185.99,418.5L187.69,418.5L187.69,407.2L189.40,407.2L189.40,400.1L191.11,400.1L191.11,398.5L192.81,398.5L192.81,399.7L194.52,399.7L194.52,400.6L196.23,400.6L196.23,399.2L197.93,399.2L197.93,396.9L199.64,396.9L199.64,385.2L201.35,385.2L201.35,385.5L203.05,385.5L203.05,393.8L204.76,393.8L204.76,392.1L206.47,392.1L206.47,393.1L208.17,393.1L208.17,393.5L209.88,393.5L209.88,391.5L211.59,391.5L211.59,385.3L213.29,385.3L213.29,382.2L215.00,382.2L215.00,392.5L216.71,392.5L216.71,394.6L218.41,394.6L218.41,389.5L220.12,389.5L220.12,388.0L221.83,388.0L221.83,387.4L223.53,387.4L223.53,388.5L225.24,388.5L225.24,390.3L226.95,390.3L226.95,394.3L228.65,394.3L228.65,398.9L230.36,398.9L230.36,393.5L232.07,393.5L232.07,385.2L233.77,385.2L233.77,386.0L235.48,386.0L235.48,386.6L237.19,386.6L237.19,387.2L238.89,387.2L238.89,390.6L240.60,390.6L240.60,391.0L242.31,391.0L242.31,389.3L244.01,389.3L244.01,381.6L245.72,381.6L245.72,383.0L247.43,383.0L247.43,384.7L249.13,384.7L249.13,382.9L250.84,382.9L250.84,382.1L252.55,382.1L252.55,388.4L254.25,388.4L254.25,398.0L255.96,398.0L255.96,400.3L257.67,400.3L257.67,403.7L259.37,403.7L259.37,408.8L261.08,408.8L261.08,408.5L262.79,408.5L262.79,406.2L264.49,406.2L264.49,402.9L266.20,402.9L266.20,402.8L267.91,402.8L267.91,403.4L269.61,403.4L269.61,405.3L271.32,405.3L271.32,401.1L273.03,401.1L273.03,413.9L274.73,413.9L274.73,427.2L276.44,427.2L276.44,428.5L278.15,428.5L278.15,418.8L279.85,418.8L279.85,416.3L281.56,416.3L281.56,420.6L283.27,420.6L283.27,417.0L284.97,417.0L284.97,413.8L286.68,413.8L286.68,408.9L288.39,408.9L288.39,407.7L290.09,407.7L290.09,413.5L291.80,413.5L291.80,412.7L293.51,412.7L293.51,405.8L295.21,405.8L295.21,401.0L296.92,401.0L296.92,401.6L298.63,401.6L298.63,391.9L300.33,391.9L300.33,391.2L302.04,391.2L302.04,386.9L303.75,386.9L303.75,385.7L305.45,385.7L305.45,381.1L307.16,381.1L307.16,367.4L308.87,367.4L308.87,353.8L310.57,353.8L310.57,358.6L312.28,358.6L312.28,371.5L313.99,371.5L313.99,372.2L315.69,372.2L315.69,374.2L317.40,374.2L317.40,379.1L319.11,379.1L319.11,383.9L320.81,383.9L320.81,386.0L322.52,386.0L322.52,389.3L324.23,389.3L324.23,391.9L325.93,391.9L325.93,385.9L327.64,385.9L327.64,383.2L329.35,383.2L329.35,391.7L331.05,391.7L331.05,405.7L332.76,405.7L332.76,405.7L334.47,405.7L334.47,407.1L336.17,407.1L336.17,418.2L337.88,418.2L337.88,423.0L339.59,423.0L339.59,417.9L341.29,417.9L341.29,425.2L343.00,425.2L343.00,427.1L344.71,427.1L344.71,427.5L346.41,427.5L346.41,421.9L348.12,421.9L348.12,414.4L349.83,414.4L349.83,411.4L351.53,411.4L351.53,409.8L353.24,409.8L353.24,411.2L354.95,411.2L354.95,412.9L356.65,412.9L356.65,423.5L358.36,423.5L358.36,435.4L360.07,435.4L360.07,443.3L361.77,443.3L361.77,441.6L363.48,441.6L363.48,436.6L365.19,436.6L365.19,433.0L366.89,433.0L366.89,430.3L368.60,430.3L368.60,427.4L370.31,427.4L370.31,428.2L372.01,428.2L372.01,428.3L373.72,428.3L373.72,424.7L375.43,424.7L375.43,421.6L377.13,421.6L377.13,417.1L378.84,417.1L378.84,414.1L380.55,414.1L380.55,413.0L382.25,413.0L382.25,414.7L383.96,414.7L383.96,416.4L385.67,416.4L385.67,418.7L387.37,418.7L387.37,421.4L389.08,421.4L389.08,425.7L390.79,425.7L390.79,430.9L392.49,430.9L392.49,434.5L394.20,434.5L394.20,438.1L395.91,438.1L395.91,441.0L397.61,441.0L397.61,436.1L399.32,436.1L399.32,436.1L401.03,436.1L401.03,434.1L402.73,434.1L402.73,431.0L404.44,431.0L404.44,426.7L406.15,426.7L406.15,424.2L407.85,424.2L407.85,421.9L409.56,421.9L409.56,419.2L411.27,419.2L411.27,414.5L412.97,414.5L412.97,414.5L414.68,414.5L414.68,427.5L416.39,427.5L416.39,428.0L418.09,428.0L418.09,409.3L419.80,409.3L419.80,406.2L421.51,406.2L421.51,405.6L423.21,405.6L423.21,404.7L424.92,404.7L424.92,401.3L426.63,401.3L426.63,397.9L428.33,397.9L428.33,394.6L430.04,394.6L430.04,392.7L431.75,392.7L431.75,396.4L433.45,396.4L433.45,400.9L435.16,400.9L435.16,397.7L436.87,397.7L436.87,395.6L438.57,395.6L438.57,398.3L440.28,398.3L440.28,398.2L441.99,398.2L441.99,397.5L443.69,397.5L443.69,397.5L445.40,397.5L445.40,397.5L447.11,397.5L447.11,398.1L448.81,398.1L448.81,399.1L450.52,399.1L450.52,402.0L452.23,402.0L452.23,403.0L453.93,403.0L453.93,404.0L455.64,404.0L455.64,405.4L457.35,405.4L457.35,406.8L459.05,406.8L459.05,408.3L460.76,408.3L460.76,406.7L462.47,406.7L462.47,403.6L464.17,403.6L464.17,401.0L465.88,401.0L465.88,399.3L467.59,399.3L467.59,387.4L469.29,387.4L469.29,386.3L471.00,386.3L471.00,386.2L472.71,386.2L472.71,385.6L474.41,385.6L474.41,385.7L476.12,385.7L476.12,389.1L477.83,389.1L477.83,389.4L479.53,389.4L479.53,389.7L481.24,389.7L481.24,389.7L482.95,389.7L482.95,389.7L484.65,389.7L484.65,389.9L486.36,389.9L486.36,390.5L488.07,390.5L488.07,392.0L489.77,392.0L489.77,392.0L491.48,392.0L491.48,393.4L493.19,393.4L493.19,396.4L494.89,396.4L494.89,397.8L496.60,397.8L496.60,396.9L498.31,396.9L498.31,372.3L500.01,372.3L500.01,365.3L501.72,365.3L501.72,365.0L503.43,365.0L503.43,364.7L505.13,364.7L505.13,365.5L506.84,365.5L506.84,367.0L508.55,367.0L508.55,364.6L510.25,364.6L510.25,364.1L511.96,364.1L511.96,365.9L513.67,365.9L513.67,369.8L515.37,369.8L515.37,374.1L517.08,374.1L517.08,379.6L518.79,379.6L518.79,385.0L520.49,385.0L520.49,387.1L522.20,387.1L522.20,387.1L523.91,387.1L523.91,387.1L525.61,387.1L525.61,387.6L527.32,387.6L527.32,388.4L529.03,388.4L529.03,390.6L530.73,390.6L530.73,396.4L532.44,396.4L532.44,397.0L534.15,397.0L534.15,398.0L535.85,398.0L535.85,401.8L537.56,401.8L537.56,405.2L539.27,405.2L539.27,406.2L540.97,406.2L540.97,406.9L542.68,406.9L542.68,408.6L544.39,408.6L544.39,410.3L546.09,410.3L546.09,412.0L547.80,412.0L547.80,413.4L549.51,413.4L549.51,414.5L551.21,414.5L551.21,415.3L552.92,415.3L552.92,415.7L554.63,415.7L554.63,414.9L556.33,414.9L556.33,417.6L558.04,417.6L558.04,419.7L559.75,419.7L559.75,417.0L561.45,417.0L561.45,415.1L563.16,415.1L563.16,414.8L564.87,414.8L564.87,415.6L566.57,415.6L566.57,418.0L568.28,418.0L568.28,418.7L569.99,418.7L569.99,420.0L571.69,420.0L571.69,421.9L573.40,421.9L573.40,425.3L575.11,425.3L575.11,429.2L576.81,429.2L576.81,436.1L578.52,436.1L578.52,444.1L580.23,444.1L580.23,447.9L581.93,447.9L581.93,453.4L583.64,453.4L583.64,445.4L585.35,445.4L585.35,447.3L587.05,447.3L587.05,450.7L588.76,450.7L588.76,451.5L590.47,451.5L590.47,449.3L592.17,449.3L592.17,446.4L593.88,446.4L593.88,444.9L595.59,444.9L595.59,444.9L597.29,444.9L597.29,441.5L599.00,441.5L599.00,438.8L600.71,438.8L600.71,439.8L602.41,439.8L602.41,441.7L604.12,441.7L604.12,442.8L605.83,442.8L605.83,439.9L607.53,439.9L607.53,438.2L609.24,438.2L609.24,437.1L610.95,437.1L610.95,438.4L612.65,438.4L612.65,441.0L614.36,441.0L614.36,445.9L616.07,445.9L616.07,449.0L617.77,449.0L617.77,448.9L619.48,448.9L619.48,440.9L621.19,440.9L621.19,440.3L622.89,440.3L622.89,439.7L624.60,439.7L624.60,439.2L626.31,439.2L626.31,443.8L628.01,443.8L628.01,447.4L629.72,447.4L629.72,440.8L631.43,440.8L631.43,439.4L633.13,439.4L633.13,436.9L634.84,436.9L634.84,433.9L636.55,433.9L636.55,429.7L638.25,429.7L638.25,428.7L639.96,428.7L639.96,427.9L641.67,427.9L641.67,425.6L643.37,425.6L643.37,423.3L645.08,423.3L645.08,421.0L646.79,421.0L646.79,418.8L648.49,418.8L648.49,415.2L650.20,415.2L650.20,409.1L651.91,409.1L651.91,403.5L653.61,403.5L653.61,407.4L655.32,407.4L655.32,417.8L657.03,417.8L657.03,420.9L658.73,420.9L658.73,428.6L660.44,428.6L660.44,430.4L662.15,430.4L662.15,411.5L663.85,411.5L663.85,399.6L665.56,399.6L665.56,404.5L667.27,404.5L667.27,411.8L668.97,411.8L668.97,418.9L670.68,418.9L670.68,424.0L672.39,424.0L672.39,428.5L674.09,428.5L674.09,433.8L675.80,433.8L675.80,441.5L677.51,441.5L677.51,442.8L679.21,442.8L679.21,430.4L680.92,430.4L680.92,437.4L682.63,437.4L682.63,442.5L684.33,442.5L684.33,446.1L686.04,446.1L686.04,448.8L687.75,448.8L687.75,451.4L689.45,451.4L689.45,455.6L691.16,455.6L691.16,459.2L692.87,459.2L692.87,456.1L694.57,456.1L694.57,452.1L696.28,452.1L696.28,449.3L697.99,449.3L697.99,445.0L699.69,445.0L699.69,450.2L701.40,450.2L701.40,451.2L703.11,451.2L703.11,450.4L704.81,450.4L704.81,449.6L706.52,449.6L706.52,449.1L708.23,449.1L708.23,447.3L709.93,447.3L709.93,445.4L711.64,445.4L711.64,444.3L713.35,444.3L713.35,445.9L715.05,445.9L715.05,446.1L716.76,446.1L716.76,440.8L718.47,440.8L718.47,436.5L720.17,436.5L720.17,434.2L721.88,434.2L721.88,432.0L723.59,432.0L723.59,430.0L725.29,430.0L725.29,429.3L727.00,429.3L727.00,429.7L728.71,429.7L728.71,436.2L730.41,436.2L730.41,436.5L732.12,436.5L732.12,436.6L733.83,436.6L733.83,436.4L735.53,436.4L735.53,436.1L737.24,436.1L737.24,435.8L738.95,435.8L738.95,435.6L740.65,435.6L740.65,436.8L742.36,436.8L742.36,438.9L744.07,438.9L744.07,440.6L745.77,440.6L745.77,442.6L747.48,442.6L747.48,446.0L749.19,446.0L749.19,447.6L750.89,447.6L750.89,447.0L752.60,447.0L752.60,445.6L754.31,445.6L754.31,444.0L756.01,444.0L756.01,445.7L757.72,445.7L757.72,445.8L759.43,445.8L759.43,442.4L761.13,442.4L761.13,439.7L762.84,439.7L762.84,437.4L764.55,437.4L764.55,436.0L766.25,436.0L766.25,434.7L767.96,434.7L767.96,432.5L769.67,432.5L769.67,429.7L771.37,429.7L771.37,427.8L773.08,427.8L773.08,426.1L774.79,426.1L774.79,424.4L776.49,424.4L776.49,423.1L778.20,423.1L778.20,422.6L779.91,422.6L779.91,422.0L781.61,422.0L781.61,421.4L783.32,421.4L783.32,422.2L785.03,422.2L785.03,424.3L786.73,424.3L786.73,419.3L788.44,419.3L788.44,417.9L790.15,417.9L790.15,415.9L791.85,415.9L791.85,412.1L793.56,412.1L793.56,413.2L795.27,413.2L795.27,411.9L796.97,411.9L796.97,412.5L798.68,412.5L798.68,407.2L800.39,407.2L800.39,405.0L802.09,405.0L802.09,405.3L803.80,405.3L803.80,405.7L805.51,405.7L805.51,406.2L807.21,406.2L807.21,406.5L808.92,406.5L808.92,403.2L810.63,403.2L810.63,396.4L812.33,396.4L812.33,396.8L814.04,396.8L814.04,395.2L815.75,395.2L815.75,394.4L817.45,394.4L817.45,396.7L819.16,396.7L819.16,398.9L820.87,398.9L820.87,393.0L822.57,393.0L822.57,388.2L824.28,388.2L824.28,388.1L825.99,388.1L825.99,387.5L827.69,387.5L827.69,381.2L829.40,381.2L829.40,380.9L831.11,380.9L831.11,387.5L832.81,387.5L832.81,395.1L834.52,395.1L834.52,391.1L836.23,391.1L836.23,388.5L837.93,388.5L837.93,387.0L839.64,387.0L839.64,386.0L841.35,386.0L841.35,388.4L843.05,388.4L843.05,393.9L844.76,393.9L844.76,395.9L846.47,395.9L846.47,400.1L848.17,400.1L848.17,401.9L849.88,401.9L849.88,400.5L851.59,400.5L851.59,399.5L853.29,399.5L853.29,412.1L855.00,412.1L855.00,415.8L856.71,415.8L856.71,404.9L858.41,404.9L858.41,401.4L860.12,401.4L860.12,406.8L861.83,406.8L861.83,417.1L863.53,417.1L863.53,422.2L865.24,422.2L865.24,439.4L866.95,439.4L866.95,441.2L868.65,441.2L868.65,437.0L870.36,437.0L870.36,436.7L872.07,436.7L872.07,440.4L873.77,440.4L873.77,442.5L875.48,442.5L875.48,442.9L877.19,442.9L877.19,442.9L878.89,442.9L878.89,434.6L880.60,434.6L880.60,429.8L882.31,429.8L882.31,437.5L884.01,437.5L884.01,440.2L885.72,440.2L885.72,440.8L887.43,440.8L887.43,438.3L889.13,438.3L889.13,429.4L890.84,429.4L890.84,417.7L892.55,417.7L892.55,412.0L894.25,412.0L894.25,408.5L895.96,408.5L895.96,410.5L897.67,410.5L897.67,408.4L899.37,408.4L899.37,407.5L901.08,407.5L901.08,407.3L902.79,407.3L902.79,411.7L904.49,411.7L904.49,403.0L906.20,403.0L906.20,397.1L907.91,397.1L907.91,395.5L909.61,395.5L909.61,395.1L911.32,395.1L911.32,388.6L913.03,388.6L913.03,386.6L914.73,386.6L914.73,388.0L916.44,388.0L916.44,391.2L918.15,391.2L918.15,395.3L919.85,395.3L919.85,397.4L921.56,397.4L921.56,396.1L923.27,396.1L923.27,393.8L924.97,393.8L924.97,395.4L926.68,395.4L926.68,400.9L928.39,400.9L928.39,403.5L930.09,403.5L930.09,404.3L931.80,404.3L931.80,404.7L933.51,404.7L933.51,404.1L935.21,404.1L935.21,404.5L936.92,404.5L936.92,406.1L938.63,406.1L938.63,405.1L940.33,405.1L940.33,393.0L942.04,393.0L942.04,389.2L943.75,389.2L943.75,393.2L945.45,393.2L945.45,397.1L947.16,397.1L947.16,399.3L948.87,399.3L948.87,401.0L950.57,401.0L950.57,400.5L952.28,400.5L952.28,398.0L953.99,398.0L953.99,395.2L955.69,395.2L955.69,391.9L957.40,391.9L957.40,389.3L959.11,389.3L959.11,384.4L960.81,384.4L960.81,382.3L962.52,382.3L962.52,382.2L964.23,382.2L964.23,383.9L965.93,383.9L965.93,391.3L967.64,391.3L967.64,391.6L969.35,391.6L969.35,389.1L971.05,389.1L971.05,389.7L972.76,389.7L972.76,388.2L974.47,388.2L974.47,386.0L976.17,386.0L976.17,385.8L977.88,385.8L977.88,393.2L979.59,393.2L979.59,395.8L981.29,395.8L981.29,393.9L983.00,393.9L983.00,394.0L984.71,394.0L984.71,395.7L986.41,395.7L986.41,396.9L988.12,396.9L988.12,417.9Z" fill="#2962ff"/>
<g stroke="#8c8f98" stroke-width="1.15" stroke-dasharray="4.4 4.4">
<line x1="10.6" y1="397.6" x2="1069.3" y2="397.6"/>
<line x1="10.6" y1="436.6" x2="1069.3" y2="436.6"/>
</g>
<line x1="988.1" y1="417.9" x2="1069.3" y2="417.9" stroke="#b4b7c0" stroke-width="1" stroke-dasharray="4.4 4.4"/>
<line x1="10.6" y1="580.8" x2="1069.3" y2="580.8" stroke="#5b2bb8" stroke-width="2.3"/>
<path d="M10.8,564.1L13.7,568.0L16.7,571.0L19.6,573.9L21.5,572.9L23.5,573.9L25.5,566.1L27.4,567.1L29.4,564.7L31.3,567.1L33.3,569.0L36.2,572.0L39.2,569.0L42.1,565.1L44.7,562.2L47.0,571.0L50.0,575.9L52.9,578.8L55.8,580.8L57.8,581.8L59.7,576.9L61.7,572.6L63.7,575.9L66.2,581.2L68.6,576.9L71.5,578.8L74.4,582.3L77.4,580.8L80.3,582.7L83.3,584.3L86.2,585.1L89.1,585.7L90.5,574.9L92.1,576.9L94.0,572.9L97.0,568.0L98.9,571.0L101.9,572.0L104.8,573.9L107.7,575.9L110.7,578.8L113.6,581.2L115.6,576.9L117.5,569.0L119.9,566.7L122.4,568.0L124.4,572.0L126.3,574.9L128.3,567.1L130.3,560.2L132.2,563.1L134.2,564.1L136.1,557.3L138.1,549.0L140.1,551.4L142.0,553.4L144.0,554.9L146.5,553.7L148.9,556.3L151.8,559.6L154.8,560.2L156.7,557.3L159.1,555.3L161.6,559.2L164.5,564.1L166.9,566.1L168.9,558.3L171.4,559.2L174.3,562.2L176.3,564.1L178.6,566.7L180.6,555.3L183.2,556.3L185.7,559.2L188.1,562.2L191.0,566.1L193.9,567.1L197.8,569.0L200.8,572.9L203.3,570.0L205.7,572.0L208.6,572.9L211.2,571.0L213.5,574.9L215.9,569.0L218.4,572.9L221.0,576.9L223.3,578.8L225.3,579.8L227.6,571.0L230.2,573.9L232.7,576.9L235.1,575.9L238.0,576.9L240.5,576.9L243.3,580.8L245.8,582.7L248.8,583.7L251.1,585.1L253.1,585.7L254.3,569.0L256.2,568.6L258.6,563.5L260.9,566.1L263.5,567.1L266.0,569.0L268.4,571.0L269.9,561.2L271.9,559.2L273.8,547.5L275.2,544.5L277.2,550.4L279.1,554.3L281.7,549.4L284.0,553.4L287.0,555.3L289.5,556.3L291.9,553.4L294.8,557.3L297.3,561.2L299.7,564.1L302.0,567.1L304.6,569.0L307.1,572.0L309.5,575.9L311.1,576.9L312.4,568.6L315.0,570.0L317.3,572.0L319.7,569.4L322.2,572.0L324.8,571.0L327.1,575.9L329.1,576.9L330.6,556.3L332.6,559.2L334.6,561.2L336.5,548.5L338.9,547.5L340.8,550.4L343.2,542.6L345.1,544.5L347.1,549.4L349.6,552.4L352.2,554.3L354.5,554.3L356.5,549.4L358.1,531.8L360.4,529.8L362.4,536.7L364.7,542.6L367.3,539.6L369.8,543.6L372.2,548.5L374.5,555.3L377.1,554.3L379.6,558.3L382.0,560.2L384.3,559.2L385.9,558.8L388.8,552.4L390.8,549.8L393.7,548.5L396.1,546.5L398.0,551.4L400.6,550.4L403.1,555.3L405.5,558.3L408.4,561.2L411.3,564.1L413.3,563.1L415.3,556.3L417.2,561.2L420.2,563.1L423.1,565.5L426.0,569.0L429.0,571.0L431.9,570.6L434.5,567.1L436.8,568.0L439.7,567.1L442.7,568.6L445.6,569.4L448.6,570.6L450.9,568.0L453.5,568.6L456.0,564.7L458.4,565.1L461.3,562.2L463.8,565.1L466.2,569.0L468.5,574.9L471.1,577.8L473.6,580.8L476.0,578.8L478.9,580.4L481.5,581.8L483.8,582.3L486.8,579.8L489.3,580.8L491.7,581.8L493.6,575.9L496.0,576.9L497.5,581.8L499.5,585.1L502.4,587.6L505.4,589.0L508.3,590.6L511.2,592.1L514.2,592.9L517.1,593.5L519.5,590.6L522.0,591.0L525.0,592.1L527.9,592.9L529.9,592.5L531.2,581.8L533.2,584.3L535.1,576.9L537.1,566.1L539.6,571.0L542.2,568.0L544.5,564.1L546.9,563.1L548.9,561.2L551.4,565.1L553.9,568.6L556.3,571.0L558.3,560.2L560.2,563.1L562.6,566.1L565.1,568.0L567.1,564.1L569.6,565.5L572.0,567.1L574.3,570.0L576.9,563.1L578.8,555.3L580.8,550.4L583.3,554.9L585.7,556.9L588.6,552.4L591.2,557.3L593.5,559.6L595.9,549.4L598.4,555.3L601.0,552.4L604.3,545.5L606.8,549.0L609.2,552.4L612.1,549.4L614.7,541.6L616.6,536.1L619.0,542.6L621.3,550.4L623.9,551.4L625.8,541.6L628.4,535.3L630.7,538.7L633.1,542.6L635.6,547.5L638.6,549.4L641.5,551.8L644.0,554.3L646.8,556.3L649.3,558.8L651.9,561.2L654.2,556.3L656.6,550.4L659.1,544.5L661.1,541.6L663.0,551.4L665.6,559.6L667.9,555.7L670.9,554.3L673.4,552.4L675.8,547.5L677.7,545.5L680.1,550.4L682.0,552.4L684.6,547.5L687.5,542.6L689.5,544.5L691.4,538.1L693.8,541.6L696.3,542.6L698.3,545.1L700.3,537.7L702.2,543.6L704.8,548.5L707.1,550.4L710.1,552.4L712.6,550.4L714.6,551.4L715.9,539.3L718.5,545.5L720.8,549.0L723.8,551.4L726.7,554.9L729.1,539.3L731.6,543.6L734.5,545.1L737.5,548.5L740.4,551.4L743.4,544.5L746.3,547.9L748.6,547.1L751.2,551.4L754.1,555.3L757.1,549.8L760.0,551.4L762.9,554.3L765.9,556.3L768.8,557.3L771.8,559.6L774.7,562.2L777.6,565.5L780.6,564.1L784.5,560.8L787.4,564.1L790.4,567.1L793.3,564.7L796.2,567.1L799.2,571.4L802.1,574.5L804.7,571.4L808.0,570.6L810.5,572.9L813.3,574.5L815.8,576.9L818.4,571.0L821.1,573.9L824.3,577.8L827.6,580.4L830.1,581.8L832.1,572.9L834.0,569.4L836.8,572.0L839.9,574.5L842.3,568.0L844.6,565.5L847.2,562.2L849.1,564.1L851.1,567.1L853.0,561.2L854.4,550.4L857.0,556.3L859.5,561.2L861.5,552.4L863.4,548.5L865.8,531.8L867.7,540.6L870.1,545.5L872.6,549.4L874.6,549.0L877.1,555.3L879.9,559.6L882.4,556.9L884.4,552.4L886.9,553.7L889.3,558.3L891.6,562.2L894.2,565.5L896.7,570.0L899.5,572.9L901.4,573.9L904.0,569.4L906.5,572.0L909.3,574.9L911.8,577.8L914.4,579.8L916.7,574.9L919.6,572.9L922.6,573.9L924.9,576.9L927.5,571.0L930.0,567.1L932.8,569.0L935.3,570.6L937.3,566.7L939.2,569.0L941.8,575.3L944.1,569.0L946.1,570.0L948.0,564.1L950.6,565.5L953.1,568.6L955.5,571.0L958.4,570.0L961.3,573.9L964.3,578.8L967.2,575.9L970.2,577.8L973.1,580.4L976.6,581.8L979.0,575.3L981.3,572.0L983.3,574.9L985.2,570.0L987.2,572.6" stroke="#ff6d00" stroke-width="1.3" fill="none" stroke-linejoin="round"/>
<path d="M10.8,572.0L13.7,573.9L15.7,575.3L18.0,569.0L20.6,562.2L22.5,565.1L24.5,567.1L26.4,571.0L29.4,570.6L31.3,567.1L33.3,560.2L35.3,562.2L37.2,557.3L39.2,560.2L41.1,563.1L43.1,562.2L44.7,561.2L46.0,543.6L48.0,542.6L50.0,544.5L52.5,536.7L54.8,539.6L57.2,534.7L59.7,537.7L61.7,542.6L63.7,537.7L65.6,540.6L67.6,547.5L70.1,550.4L72.1,540.6L74.0,539.6L76.0,545.5L78.4,551.4L81.3,556.3L83.8,558.3L85.2,561.2L87.2,555.3L89.1,557.3L91.1,561.2L94.0,564.1L97.0,567.1L98.9,559.2L100.9,556.3L102.8,558.3L104.8,553.4L106.8,550.4L108.7,545.5L110.7,540.6L113.2,537.3L115.6,542.6L117.5,547.5L119.9,552.4L122.4,556.3L123.8,542.6L126.3,530.2L128.3,539.6L130.3,547.5L133.2,551.4L135.2,553.4L137.1,557.3L139.5,560.2L142.0,563.1L145.0,567.1L147.3,569.4L149.9,564.1L152.4,559.2L154.8,560.2L156.7,561.2L159.1,563.1L161.6,564.1L163.6,560.2L165.5,557.3L167.5,562.2L169.4,564.1L172.4,566.1L175.3,568.0L177.3,565.1L179.2,566.1L181.8,569.0L184.1,569.4L186.1,567.1L188.1,556.3L190.0,555.3L192.0,551.4L193.9,554.3L197.8,551.4L200.2,547.5L202.7,552.4L205.7,555.3L208.6,558.3L211.2,560.2L213.5,552.4L215.5,559.2L218.4,551.4L221.0,551.0L222.9,555.3L225.3,564.1L227.6,569.0L229.2,571.0L231.5,561.2L233.5,556.3L235.4,560.2L237.4,554.3L240.0,558.3L241.9,561.2L243.9,547.5L245.8,548.5L247.8,552.4L249.7,549.4L251.7,545.5L253.7,553.4L256.2,559.2L258.6,562.2L260.9,565.1L263.5,564.1L266.0,561.2L268.4,560.2L270.7,565.1L273.3,571.0L276.2,574.9L278.1,568.0L280.5,564.1L283.0,568.6L285.6,566.1L287.9,563.1L290.3,566.1L292.8,568.0L295.4,561.2L297.3,560.2L299.3,555.3L301.3,556.3L303.6,554.9L305.6,557.3L307.1,549.4L308.5,535.7L309.9,530.8L311.8,537.7L313.8,541.6L316.3,538.7L318.9,543.6L321.2,547.5L324.2,551.0L326.1,545.5L328.1,538.7L329.5,549.4L331.0,553.4L333.0,558.3L335.3,565.1L337.9,568.6L339.9,565.1L342.4,568.0L345.1,572.6L347.7,567.1L350.2,562.2L352.6,564.1L354.9,567.1L357.5,571.0L360.0,574.5L362.4,574.9L364.7,567.1L367.3,570.0L369.2,568.0L371.8,569.0L374.1,564.1L375.7,563.1L377.7,565.5L379.6,560.2L382.0,561.2L384.3,563.1L385.9,566.1L388.8,569.0L391.8,572.9L394.7,575.9L397.6,577.3L400.6,579.2L403.1,576.9L405.5,571.0L407.8,572.0L410.4,569.0L413.3,572.0L415.7,574.9L418.2,569.0L421.1,565.5L424.1,565.1L427.0,561.2L430.0,557.7L432.5,560.2L434.8,563.1L437.8,565.1L440.7,566.1L443.1,563.1L445.6,565.1L448.2,563.5L450.5,565.5L453.5,566.1L456.0,567.5L458.4,568.6L461.3,570.0L463.3,559.2L465.2,556.3L467.2,547.5L469.1,529.5L471.1,533.8L473.6,537.7L476.0,542.6L478.9,544.5L481.5,547.1L483.8,545.5L485.8,551.4L488.1,556.3L490.7,558.3L493.2,561.2L495.2,563.1L496.6,557.3L497.9,529.8L499.9,519.7L501.8,526.9L504.4,527.9L507.3,529.5L508.9,522.0L510.3,515.7L512.2,521.0L514.8,525.9L516.7,526.9L519.1,531.8L521.0,533.8L523.4,528.9L525.3,527.5L527.3,531.8L529.9,535.7L532.4,542.6L534.4,539.6L536.3,547.5L538.7,553.4L541.0,558.3L544.2,562.2L546.9,565.1L550.0,568.0L553.4,571.0L556.3,569.0L559.2,573.9L561.8,572.0L564.1,573.9L567.1,575.9L570.0,575.9L572.9,578.4L575.9,581.8L578.8,583.1L581.8,584.7L584.1,574.5L586.7,576.9L589.6,577.8L592.5,575.9L595.1,577.3L597.4,573.9L599.8,572.6L602.3,574.9L604.9,576.9L606.8,572.0L609.2,574.9L612.1,578.4L615.1,581.8L618.0,583.7L620.5,568.6L622.9,571.0L625.2,572.9L627.8,579.8L630.3,578.8L632.7,579.8L635.0,573.9L637.6,569.0L640.1,570.0L642.5,566.1L644.8,562.2L647.4,561.2L649.3,554.3L651.9,550.4L653.8,555.3L655.8,560.2L658.1,564.1L660.5,568.6L662.1,569.0L663.6,552.4L665.6,557.3L667.6,561.2L669.9,564.1L672.8,568.0L675.8,572.9L678.7,576.9L681.3,571.4L684.0,573.9L686.6,576.9L689.5,579.2L692.4,581.8L695.4,582.7L698.3,577.8L700.9,581.8L704.2,584.3L707.1,585.7L710.1,587.0L713.0,588.6L716.9,590.2L719.3,581.8L721.8,577.3L724.4,576.9L726.3,571.4L728.7,574.9L731.0,577.8L733.6,579.8L736.1,580.8L737.5,574.9L740.0,575.9L742.4,577.8L745.3,581.8L748.3,584.7L751.2,585.7L754.1,584.7L757.1,586.3L760.0,587.6L762.9,583.7L765.9,582.7L768.8,583.1L771.8,576.9L774.7,577.3L777.6,569.4L780.6,569.0L783.1,571.0L785.5,565.1L787.8,567.5L790.4,565.5L792.3,560.2L794.9,559.6L797.2,561.2L799.2,559.2L800.7,554.3L802.7,558.8L805.1,560.2L808.0,562.2L810.5,564.1L812.9,557.3L814.8,553.7L817.2,555.3L819.7,560.2L821.7,553.4L823.7,546.5L825.6,549.4L827.6,543.6L830.1,544.0L832.1,550.4L834.4,551.4L836.8,550.4L839.3,545.1L841.9,548.5L844.2,553.4L846.6,558.3L849.1,561.2L851.1,553.4L853.6,557.3L856.0,558.3L858.3,550.4L860.3,549.0L861.9,557.3L864.2,559.2L866.8,567.1L869.3,570.0L871.7,572.0L874.6,573.9L877.1,576.9L879.5,572.9L881.8,568.6L884.4,572.0L886.9,573.9L888.9,571.0L890.3,554.3L892.8,555.3L895.2,554.3L897.5,557.3L900.1,558.3L902.6,562.2L905.0,565.1L907.3,558.3L909.9,556.9L912.4,553.4L914.8,554.3L917.1,557.3L919.6,560.2L922.2,561.2L924.2,554.9L926.5,556.3L929.4,559.2L932.0,561.2L934.3,559.2L936.7,565.1L938.6,567.1L940.2,541.6L942.2,539.6L944.5,545.5L945.7,547.5L948.0,553.4L950.6,559.2L953.1,563.1L955.1,557.3L957.4,552.4L959.4,548.5L961.3,542.6L963.3,543.6L965.3,539.3L967.2,547.1L969.2,542.6L971.5,546.5L973.5,548.5L976.0,544.5L978.0,549.4L980.0,551.4L982.5,547.9L984.8,551.0L987.2,549.8" stroke="#2962ff" stroke-width="1.3" fill="none" stroke-linejoin="round"/>
<path d="M10.8,531.8C11.3,532.9 12.7,536.5 13.7,538.7C14.7,540.8 15.7,542.7 16.7,544.5C17.6,546.3 18.6,548.0 19.6,549.4C20.6,550.9 21.5,552.0 22.5,553.4C23.5,554.7 24.5,556.0 25.5,557.3C26.4,558.6 27.4,560.0 28.4,561.2C29.4,562.3 30.4,563.4 31.3,564.1C32.3,564.8 33.3,565.3 34.3,565.5C35.3,565.7 36.2,565.4 37.2,565.5C38.2,565.6 39.3,565.6 40.2,566.1C41.0,566.6 41.4,567.9 42.1,568.6C42.9,569.4 43.8,570.9 44.7,570.6C45.5,570.3 46.1,568.6 47.0,567.1C47.9,565.5 49.0,563.1 50.0,561.2C50.9,559.2 51.9,557.1 52.9,555.3C53.9,553.5 54.8,551.8 55.8,550.4C56.8,549.0 57.8,548.1 58.8,547.1C59.7,546.1 60.7,545.5 61.7,544.5C62.7,543.6 63.7,541.9 64.6,541.2C65.6,540.6 66.6,540.8 67.6,540.6C68.6,540.5 69.5,540.9 70.5,540.2C71.5,539.6 72.5,537.8 73.5,536.7C74.4,535.6 75.4,534.5 76.4,533.8C77.4,533.0 78.4,532.7 79.3,532.2C80.3,531.7 81.1,531.3 82.3,530.8C83.4,530.4 85.0,529.9 86.2,529.5C87.3,529.0 88.3,527.7 89.1,527.9C89.9,528.1 90.3,529.7 91.1,530.8C91.9,532.0 93.0,533.1 94.0,534.7C95.0,536.4 96.0,539.0 97.0,540.6C97.9,542.3 98.9,543.4 99.9,544.5C100.9,545.7 101.9,546.9 102.8,547.5C103.8,548.0 104.8,548.0 105.8,547.9C106.8,547.7 107.7,547.4 108.7,546.5C109.7,545.6 110.7,543.8 111.7,542.6C112.6,541.4 113.6,539.6 114.6,539.3C115.6,538.9 116.6,539.7 117.5,540.6C118.5,541.5 119.5,543.4 120.5,544.5C121.4,545.7 122.4,547.3 123.4,547.5C124.4,547.6 125.4,545.7 126.3,545.5C127.3,545.4 128.3,545.7 129.3,546.5C130.3,547.3 131.2,549.3 132.2,550.4C133.2,551.6 134.2,552.2 135.2,553.4C136.1,554.5 137.1,556.1 138.1,557.3C139.1,558.4 140.1,559.3 141.0,560.2C142.0,561.1 142.8,562.1 144.0,562.8C145.1,563.4 146.8,563.4 147.9,564.1C149.0,564.8 149.9,566.1 150.8,567.1C151.8,568.0 152.8,569.1 153.8,570.0C154.8,570.9 155.7,571.7 156.7,572.6C157.7,573.4 158.7,574.2 159.6,574.9C160.6,575.6 161.6,576.3 162.6,576.9C163.6,577.4 164.5,578.0 165.5,578.4C166.5,578.9 167.3,579.1 168.5,579.4C169.6,579.7 171.1,580.0 172.4,580.4C173.7,580.8 175.3,581.3 176.3,581.8C177.3,582.2 177.8,583.0 178.6,583.1C179.5,583.2 180.3,582.7 181.2,582.3C182.1,582.0 183.2,581.4 184.1,581.2C185.1,580.9 186.1,580.8 187.1,580.8C188.1,580.7 189.0,580.9 190.0,580.8C191.0,580.6 191.8,580.4 192.9,579.8C194.1,579.2 195.7,578.2 196.9,577.3C198.0,576.3 198.8,574.8 199.8,573.9C200.8,573.0 201.8,572.5 202.7,572.0C203.7,571.5 204.7,571.3 205.7,571.0C206.7,570.7 207.6,570.3 208.6,570.0C209.6,569.7 210.6,569.8 211.5,569.4C212.5,569.0 213.5,567.7 214.5,567.5C215.5,567.2 216.4,568.4 217.4,568.0C218.4,567.7 219.4,566.3 220.4,565.5C221.3,564.7 222.3,563.4 223.3,563.1C224.3,562.9 225.3,563.5 226.2,564.1C227.2,564.8 228.2,566.6 229.2,567.1C230.2,567.5 231.1,567.0 232.1,566.7C233.1,566.3 234.1,565.6 235.1,565.1C236.0,564.6 237.0,564.0 238.0,563.5C239.0,563.1 240.0,562.9 240.9,562.2C241.9,561.5 242.9,560.7 243.9,559.2C244.8,557.8 245.8,555.2 246.8,553.4C247.8,551.6 248.7,550.2 249.7,548.5C250.8,546.8 252.1,543.5 253.1,543.2C254.1,542.8 254.9,545.3 255.6,546.5C256.4,547.7 256.8,548.9 257.6,550.4C258.3,551.9 259.3,553.9 260.1,555.3C260.9,556.7 261.6,557.7 262.5,558.8C263.4,560.0 264.4,561.3 265.4,562.2C266.4,563.1 267.4,563.6 268.4,564.1C269.3,564.7 270.3,565.2 271.3,565.5C272.3,565.8 273.3,566.5 274.2,566.1C275.2,565.7 276.2,563.5 277.2,563.1C278.1,562.8 279.1,564.0 280.1,564.1C281.1,564.3 282.1,563.9 283.0,564.1C284.0,564.4 285.0,565.0 286.0,565.5C287.0,566.0 287.9,566.7 288.9,567.1C289.9,567.4 290.9,567.0 291.9,567.5C292.8,567.9 293.8,569.3 294.8,570.0C295.8,570.8 296.8,571.4 297.7,572.0C298.7,572.5 299.7,573.0 300.7,573.3C301.7,573.7 302.6,574.1 303.6,573.9C304.6,573.8 305.6,573.7 306.6,572.6C307.5,571.4 308.5,568.7 309.5,567.1C310.5,565.4 311.4,564.0 312.4,562.8C313.4,561.5 314.4,560.5 315.4,559.6C316.3,558.8 317.3,558.1 318.3,557.7C319.3,557.2 320.3,557.1 321.2,556.9C322.2,556.7 323.2,556.7 324.2,556.3C325.2,555.9 326.2,555.0 327.1,554.3C328.0,553.7 328.7,552.0 329.5,552.4C330.3,552.7 331.1,555.1 332.0,556.3C332.9,557.5 334.0,558.8 335.0,559.6C335.9,560.4 336.9,560.9 337.9,561.2C338.9,561.5 339.9,561.4 340.8,561.2C341.8,561.0 342.8,560.5 343.8,560.2C344.8,559.9 345.7,559.2 346.7,559.2C347.7,559.2 348.7,559.7 349.6,560.2C350.6,560.7 351.6,561.7 352.6,562.2C353.6,562.7 354.5,563.5 355.5,563.1C356.5,562.8 357.5,561.4 358.5,560.2C359.4,559.1 360.4,557.2 361.4,556.3C362.4,555.4 363.4,555.3 364.3,554.9C365.3,554.5 366.3,554.0 367.3,553.7C368.3,553.5 369.2,553.4 370.2,553.4C371.2,553.4 372.2,553.1 373.2,553.7C374.1,554.4 375.1,556.2 376.1,557.3C377.1,558.3 378.1,559.1 379.0,560.2C380.0,561.4 381.0,562.8 382.0,564.1C382.9,565.4 384.3,567.2 384.9,568.0C385.6,568.9 385.2,568.7 385.9,569.0C386.5,569.4 387.8,570.3 388.8,570.0C389.8,569.7 390.8,568.2 391.8,567.1C392.7,565.9 393.7,564.5 394.7,563.1C395.7,561.8 396.7,560.3 397.6,559.2C398.6,558.2 399.6,557.5 400.6,556.9C401.5,556.3 402.5,555.7 403.5,555.7C404.5,555.7 405.5,556.3 406.4,556.9C407.4,557.5 408.4,558.2 409.4,559.2C410.4,560.3 411.3,562.7 412.3,563.1C413.3,563.6 414.3,562.1 415.3,562.2C416.2,562.2 417.2,562.9 418.2,563.5C419.2,564.2 420.2,565.0 421.1,566.1C422.1,567.2 423.1,569.0 424.1,570.0C425.1,571.0 426.0,571.5 427.0,572.0C428.0,572.4 429.0,572.4 430.0,572.6C430.9,572.7 431.9,572.6 432.9,572.9C433.9,573.3 434.8,574.2 435.8,574.9C436.8,575.6 437.8,576.3 438.8,576.9C439.7,577.4 440.7,578.0 441.7,578.4C442.7,578.8 443.7,578.9 444.6,579.2C445.6,579.5 446.6,580.0 447.6,580.4C448.6,580.8 449.5,581.4 450.5,581.8C451.5,582.1 452.5,582.4 453.5,582.7C454.4,583.1 455.4,583.5 456.4,583.7C457.4,584.0 458.4,584.1 459.3,584.3C460.3,584.5 461.3,584.8 462.3,584.7C463.3,584.6 464.3,584.2 465.2,583.7C466.1,583.2 466.9,583.2 467.8,581.8C468.6,580.3 469.2,577.4 470.1,574.9C471.0,572.5 472.1,569.5 473.0,567.1C474.0,564.6 475.0,562.3 476.0,560.2C477.0,558.1 477.9,556.1 478.9,554.3C479.9,552.5 480.9,550.8 481.9,549.4C482.8,548.0 483.8,546.6 484.8,545.9C485.8,545.2 486.8,545.5 487.7,545.1C488.7,544.8 489.9,544.2 490.7,544.0C491.5,543.7 491.8,543.2 492.6,543.6C493.5,543.9 494.8,545.4 495.6,545.9C496.4,546.4 496.8,547.7 497.5,546.5C498.3,545.3 499.1,540.9 499.9,538.7C500.7,536.4 501.5,534.9 502.4,532.8C503.3,530.7 504.4,528.2 505.4,525.9C506.3,523.6 507.3,521.5 508.3,519.1C509.3,516.6 510.3,513.5 511.2,511.2C512.2,509.0 513.2,507.4 514.2,505.4C515.2,503.3 516.1,500.5 517.1,498.9C518.1,497.3 519.1,496.7 520.1,495.6C521.0,494.5 522.0,493.5 523.0,492.2C524.0,490.9 525.0,489.0 525.9,487.7C526.9,486.5 527.9,485.0 528.9,484.8C529.9,484.6 530.8,485.6 531.8,486.4C532.8,487.1 533.8,487.7 534.8,489.1C535.7,490.5 536.9,492.5 537.7,494.6C538.5,496.6 538.9,499.2 539.6,501.4C540.4,503.7 541.4,506.0 542.2,508.3C543.0,510.6 543.8,512.7 544.5,515.2C545.3,517.6 546.1,520.7 546.9,523.0C547.7,525.3 548.5,526.6 549.4,528.9C550.4,531.2 551.4,534.3 552.4,536.7C553.4,539.2 554.3,541.6 555.3,543.6C556.3,545.5 557.3,547.2 558.3,548.5C559.2,549.8 560.2,550.2 561.2,551.4C562.2,552.6 563.2,554.7 564.1,555.7C565.1,556.7 566.1,557.1 567.1,557.7C568.1,558.2 569.0,558.5 570.0,558.8C571.0,559.2 572.0,559.4 572.9,559.6C573.9,559.9 575.0,560.9 575.9,560.2C576.8,559.5 577.4,557.0 578.2,555.3C579.0,553.6 579.9,550.7 580.8,549.8C581.7,548.9 582.7,549.9 583.7,549.8C584.7,549.8 585.7,549.7 586.7,549.4C587.6,549.2 588.6,548.5 589.6,548.5C590.6,548.4 591.5,549.0 592.5,549.0C593.5,549.0 594.5,548.5 595.5,548.5C596.4,548.5 597.4,549.0 598.4,549.0C599.4,549.0 600.4,548.7 601.3,548.5C602.3,548.2 603.3,547.6 604.3,547.5C605.3,547.3 606.2,547.6 607.2,547.5C608.2,547.3 609.2,547.1 610.2,546.5C611.1,545.9 612.1,545.2 613.1,544.0C614.1,542.7 615.2,540.4 616.0,539.3C616.8,538.1 617.2,537.3 618.0,537.3C618.7,537.3 619.7,538.7 620.5,539.3C621.4,539.8 622.0,540.5 622.9,540.6C623.8,540.8 624.8,540.5 625.8,540.0C626.8,539.6 627.8,539.0 628.8,538.1C629.7,537.2 630.9,535.5 631.7,534.7C632.5,534.0 632.8,533.6 633.7,533.8C634.5,533.9 635.6,535.0 636.6,535.7C637.6,536.4 638.6,537.1 639.5,538.1C640.5,539.1 641.5,540.2 642.5,541.6C643.5,543.0 644.4,544.9 645.4,546.5C646.4,548.1 647.4,549.4 648.4,551.0C649.3,552.6 650.3,554.9 651.3,556.3C652.3,557.7 653.3,558.8 654.2,559.6C655.2,560.4 656.2,561.1 657.2,561.2C658.1,561.3 659.3,560.6 660.1,560.4C660.9,560.2 661.4,559.8 662.1,560.2C662.7,560.7 663.2,562.2 664.0,563.1C664.8,564.1 666.0,565.3 667.0,566.1C667.9,566.9 668.9,567.6 669.9,568.0C670.9,568.5 671.9,569.1 672.8,568.6C673.8,568.2 674.8,566.7 675.8,565.5C676.8,564.3 677.7,562.4 678.7,561.6C679.7,560.8 680.7,561.4 681.7,560.8C682.6,560.2 683.6,559.3 684.6,558.3C685.6,557.2 686.6,555.6 687.5,554.3C688.5,553.0 689.5,551.7 690.5,550.4C691.4,549.1 692.4,547.8 693.4,546.5C694.4,545.2 695.4,543.9 696.3,542.6C697.3,541.3 698.3,540.0 699.3,538.7C700.3,537.4 701.2,536.0 702.2,534.7C703.2,533.5 704.2,532.6 705.2,531.4C706.1,530.3 707.1,529.0 708.1,527.9C709.1,526.8 710.1,526.1 711.0,525.0C712.0,523.8 713.0,522.4 714.0,521.0C715.0,519.6 715.9,517.2 716.9,516.5C717.9,515.9 718.9,516.7 719.9,517.1C720.8,517.5 721.8,518.3 722.8,519.1C723.8,519.9 724.9,520.9 725.7,522.0C726.5,523.1 726.9,525.0 727.7,525.5C728.5,526.1 729.6,525.6 730.6,525.5C731.6,525.4 732.6,525.0 733.6,525.0C734.5,524.9 735.5,524.6 736.5,525.0C737.5,525.3 738.5,526.4 739.4,526.9C740.4,527.4 741.4,527.9 742.4,527.9C743.4,527.9 744.3,527.4 745.3,526.9C746.3,526.4 747.3,525.7 748.3,525.0C749.2,524.2 750.2,523.0 751.2,522.4C752.2,521.8 753.2,522.1 754.1,521.6C755.1,521.2 756.1,520.3 757.1,519.7C758.1,519.0 759.2,518.1 760.0,517.7C760.8,517.3 761.2,517.1 762.0,517.1C762.8,517.1 764.3,517.5 764.9,517.7C765.6,517.9 765.2,518.2 765.9,518.5C766.5,518.8 767.8,518.9 768.8,519.7C769.8,520.4 770.8,521.6 771.8,523.0C772.7,524.4 773.7,526.1 774.7,527.9C775.7,529.7 776.7,531.8 777.6,533.8C778.6,535.7 779.6,537.8 780.6,539.6C781.5,541.4 782.5,542.9 783.5,544.5C784.5,546.2 785.5,547.8 786.4,549.4C787.4,551.1 788.4,553.0 789.4,554.3C790.4,555.7 791.3,556.6 792.3,557.7C793.3,558.7 794.3,559.9 795.3,560.8C796.2,561.6 797.2,562.4 798.2,562.8C799.2,563.1 800.2,562.9 801.1,562.8C802.1,562.7 803.1,561.9 804.1,562.2C805.1,562.4 806.0,563.6 807.0,564.1C808.0,564.7 809.0,565.2 810.0,565.5C810.9,565.8 811.9,566.3 812.9,566.1C813.9,565.9 814.8,564.8 815.8,564.1C816.8,563.5 817.8,562.7 818.8,562.2C819.7,561.7 820.7,561.8 821.7,561.2C822.7,560.5 823.7,559.5 824.6,558.3C825.6,557.0 826.6,555.1 827.6,553.7C828.6,552.4 829.5,551.0 830.5,550.4C831.5,549.9 832.5,550.4 833.5,550.4C834.4,550.4 835.4,550.6 836.4,550.4C837.4,550.3 838.4,549.4 839.3,549.4C840.3,549.4 841.3,549.6 842.3,550.4C843.3,551.2 844.2,552.9 845.2,554.3C846.2,555.8 847.2,558.1 848.1,559.2C849.1,560.4 850.1,560.4 851.1,561.2C852.1,562.0 853.0,563.1 854.0,564.1C855.0,565.1 856.0,566.3 857.0,567.1C857.9,567.8 858.9,568.1 859.9,568.6C860.9,569.1 861.9,569.9 862.8,570.0C863.8,570.1 864.8,569.8 865.8,569.0C866.8,568.3 867.7,566.5 868.7,565.5C869.7,564.5 870.7,563.9 871.7,563.1C872.6,562.4 873.6,561.5 874.6,560.8C875.6,560.1 876.6,559.0 877.5,558.8C878.5,558.6 879.5,559.3 880.5,559.6C881.4,559.9 882.4,560.8 883.4,560.8C884.4,560.8 885.4,559.9 886.3,559.6C887.3,559.4 888.3,559.0 889.3,559.2C890.3,559.5 891.2,560.7 892.2,561.2C893.2,561.7 894.2,561.9 895.2,562.2C896.1,562.4 897.1,562.6 898.1,562.8C899.1,562.9 900.1,562.7 901.0,563.1C902.0,563.6 903.0,565.1 904.0,565.5C905.0,565.9 905.9,565.7 906.9,565.5C907.9,565.3 908.9,564.8 909.9,564.1C910.8,563.4 911.8,562.1 912.8,561.2C913.8,560.3 914.8,559.2 915.7,558.8C916.7,558.5 917.7,559.0 918.7,559.2C919.6,559.5 920.6,560.2 921.6,560.2C922.6,560.2 923.6,559.5 924.5,559.2C925.5,559.0 926.5,558.5 927.5,558.8C928.5,559.2 929.4,560.5 930.4,561.2C931.4,561.9 932.4,562.7 933.4,563.1C934.3,563.6 935.3,563.5 936.3,564.1C937.3,564.7 938.4,566.7 939.2,566.7C940.1,566.7 940.4,564.9 941.2,564.1C942.0,563.4 943.2,562.4 944.1,562.2C945.0,561.9 945.7,562.3 946.7,562.8C947.6,563.2 948.6,564.2 949.6,565.1C950.6,566.0 951.6,567.5 952.5,568.0C953.4,568.6 954.3,568.8 955.1,568.6C955.9,568.5 956.5,568.0 957.4,567.1C958.3,566.2 959.4,564.5 960.4,563.1C961.3,561.8 962.3,560.2 963.3,558.8C964.3,557.5 965.3,556.1 966.2,554.9C967.2,553.7 968.2,552.9 969.2,551.8C970.2,550.7 971.1,549.5 972.1,548.5C973.1,547.4 974.1,546.3 975.1,545.5C976.0,544.8 977.0,544.2 978.0,544.0C979.0,543.7 980.0,543.9 980.9,544.0C981.9,544.0 982.9,544.3 983.9,544.5C984.8,544.8 986.2,545.3 986.8,545.5C987.5,545.7 987.6,545.8 987.8,545.9" stroke="#1e222d" stroke-width="2.1" fill="none" stroke-linecap="round" stroke-linejoin="round"/>
<polygon points="10.6,30.0 336,27.3 336,28.5 10.6,32.6" fill="#1b5e20"/>
<text x="10.8" y="19.9" font-size="11.9" fill="#131722" stroke="#131722" stroke-width="0.15" text-anchor="start" textLength="53.8" lengthAdjust="spacingAndGlyphs">FxWirePro</text>
<text x="69.9" y="19.9" font-size="11.9" fill="#131722" stroke="#131722" stroke-width="0.15" text-anchor="start" textLength="39.4" lengthAdjust="spacingAndGlyphs">created</text>
<text x="113.7" y="19.9" font-size="11.9" fill="#131722" stroke="#131722" stroke-width="0.15" text-anchor="start" textLength="22.5" lengthAdjust="spacingAndGlyphs">with</text>
<text x="140.6" y="19.9" font-size="11.9" fill="#131722" stroke="#131722" stroke-width="0.15" text-anchor="start" textLength="93.1" lengthAdjust="spacingAndGlyphs">TradingView.com,</text>
<text x="239.4" y="19.9" font-size="11.9" fill="#131722" stroke="#131722" stroke-width="0.15" text-anchor="start" textLength="20.2" lengthAdjust="spacingAndGlyphs">Aug</text>
<text x="264.0" y="19.9" font-size="11.9" fill="#131722" stroke="#131722" stroke-width="0.15" text-anchor="start" textLength="15.8" lengthAdjust="spacingAndGlyphs">08,</text>
<text x="283.5" y="19.9" font-size="11.9" fill="#131722" stroke="#131722" stroke-width="0.15" text-anchor="start" textLength="24.2" lengthAdjust="spacingAndGlyphs">2025</text>
<text x="312.7" y="19.9" font-size="11.9" fill="#131722" stroke="#131722" stroke-width="0.15" text-anchor="start" textLength="26.9" lengthAdjust="spacingAndGlyphs">13:41</text>
<text x="344.7" y="19.9" font-size="11.9" fill="#131722" stroke="#131722" stroke-width="0.15" text-anchor="start" textLength="20.8" lengthAdjust="spacingAndGlyphs">UTC</text>
<text x="18.8" y="47.0" font-size="11" fill="#131722" stroke="#131722" stroke-width="0.15" text-anchor="start" textLength="42.5" lengthAdjust="spacingAndGlyphs">Binance</text>
<text x="65.3" y="47.0" font-size="11" fill="#131722" stroke="#131722" stroke-width="0.15" text-anchor="start" textLength="21.7" lengthAdjust="spacingAndGlyphs">Coin</text>
<text x="92.6" y="47.0" font-size="11" fill="#131722" stroke="#131722" stroke-width="0.15" text-anchor="start">/</text>
<text x="101.8" y="47.0" font-size="11" fill="#131722" stroke="#131722" stroke-width="0.15" text-anchor="start" textLength="11.7" lengthAdjust="spacingAndGlyphs">US</text>
<text x="117.7" y="47.0" font-size="11" fill="#131722" stroke="#131722" stroke-width="0.15" text-anchor="start" textLength="32.1" lengthAdjust="spacingAndGlyphs">Dollar</text>
<text x="153.3" y="47.0" font-size="11" fill="#131722" stroke="#131722" stroke-width="0.15" text-anchor="start" font-weight="bold">·</text>
<text x="162.7" y="47.0" font-size="11" fill="#131722" stroke="#131722" stroke-width="0.15" text-anchor="start" textLength="12.1" lengthAdjust="spacingAndGlyphs">1h</text>
<text x="178.3" y="47.0" font-size="11" fill="#131722" stroke="#131722" stroke-width="0.15" text-anchor="start" font-weight="bold">·</text>
<text x="186.3" y="47.0" font-size="11" fill="#131722" stroke="#131722" stroke-width="0.15" text-anchor="start" textLength="44.9" lengthAdjust="spacingAndGlyphs">BINANCE</text>
<text x="240.0" y="47.0" font-size="11" fill="#131722" stroke="#131722" stroke-width="0.15" text-anchor="start" textLength="8.2" lengthAdjust="spacingAndGlyphs">O</text>
<text x="248.6" y="47.0" font-size="11" fill="#089981" stroke="#089981" stroke-width="0.15" text-anchor="start" textLength="28.0" lengthAdjust="spacingAndGlyphs">786.1</text>
<text x="285.0" y="47.0" font-size="11" fill="#131722" stroke="#131722" stroke-width="0.15" text-anchor="start" textLength="7.4" lengthAdjust="spacingAndGlyphs">H</text>
<text x="293.0" y="47.0" font-size="11" fill="#089981" stroke="#089981" stroke-width="0.15" text-anchor="start" textLength="29.0" lengthAdjust="spacingAndGlyphs">792.0</text>
<text x="330.0" y="47.0" font-size="11" fill="#131722" stroke="#131722" stroke-width="0.15" text-anchor="start" textLength="5.4" lengthAdjust="spacingAndGlyphs">L</text>
<text x="335.8" y="47.0" font-size="11" fill="#089981" stroke="#089981" stroke-width="0.15" text-anchor="start" textLength="28.0" lengthAdjust="spacingAndGlyphs">786.1</text>
<text x="372.7" y="47.0" font-size="11" fill="#131722" stroke="#131722" stroke-width="0.15" text-anchor="start" textLength="6.8" lengthAdjust="spacingAndGlyphs">C</text>
<text x="379.9" y="47.0" font-size="11" fill="#089981" stroke="#089981" stroke-width="0.15" text-anchor="start" textLength="28.2" lengthAdjust="spacingAndGlyphs">788.5</text>
<text x="416.9" y="47.0" font-size="11" fill="#089981" stroke="#089981" stroke-width="0.15" text-anchor="start" textLength="71.0" lengthAdjust="spacingAndGlyphs">+2.5 (+0.32%)</text>
<text x="18.8" y="63.6" font-size="11" fill="#131722" stroke="#131722" stroke-width="0.15" text-anchor="start" textLength="139.0" lengthAdjust="spacingAndGlyphs">EMA (55, close, 0, SMA, 5)</text>
<text x="166.6" y="63.6" font-size="11" fill="#00897b" stroke="#00897b" stroke-width="0.15" text-anchor="start" textLength="28.8" lengthAdjust="spacingAndGlyphs">776.9</text>
<text x="18.8" y="80.2" font-size="11" fill="#131722" stroke="#131722" stroke-width="0.15" text-anchor="start" textLength="87.9" lengthAdjust="spacingAndGlyphs">EMA (365, close)</text>
<text x="114.4" y="80.2" font-size="11" fill="#e91e63" stroke="#e91e63" stroke-width="0.15" text-anchor="start" textLength="29.0" lengthAdjust="spacingAndGlyphs">768.5</text>
<text x="18.8" y="97.3" font-size="11" fill="#131722" stroke="#131722" stroke-width="0.15" text-anchor="start" textLength="145.4" lengthAdjust="spacingAndGlyphs">EMA (200, close, 0, SMA, 5)</text>
<text x="173.0" y="97.3" font-size="11" fill="#673ab7" stroke="#673ab7" stroke-width="0.15" text-anchor="start" textLength="28.4" lengthAdjust="spacingAndGlyphs">771.3</text>
<text x="18.6" y="360.3" font-size="11" fill="#131722" stroke="#131722" stroke-width="0.15" text-anchor="start" textLength="116.2" lengthAdjust="spacingAndGlyphs">CCI (50, hlc3, SMA, 5)</text>
<text x="144.0" y="360.3" font-size="11" fill="#2962ff" stroke="#2962ff" stroke-width="0.15" text-anchor="start" textLength="33.9" lengthAdjust="spacingAndGlyphs">109.22</text>
<text x="18.6" y="491.7" font-size="11" fill="#131722" stroke="#131722" stroke-width="0.15" text-anchor="start" textLength="64.1" lengthAdjust="spacingAndGlyphs">DMI (14, 14)</text>
<text x="90.5" y="491.7" font-size="11" fill="#131722" stroke="#131722" stroke-width="0.15" text-anchor="start" textLength="41.7" lengthAdjust="spacingAndGlyphs">32.2474</text>
<text x="140.0" y="491.7" font-size="11" fill="#2962ff" stroke="#2962ff" stroke-width="0.15" text-anchor="start" textLength="41.8" lengthAdjust="spacingAndGlyphs">29.3566</text>
<text x="189.6" y="491.7" font-size="11" fill="#ff6d00" stroke="#ff6d00" stroke-width="0.15" text-anchor="start" textLength="41.5" lengthAdjust="spacingAndGlyphs">16.1688</text>
<text x="1078.2" y="78.0" font-size="11.7" fill="#131722" stroke="#131722" stroke-width="0.15" text-anchor="start" textLength="30.0" lengthAdjust="spacingAndGlyphs">850.0</text>
<text x="1078.2" y="111.7" font-size="11.7" fill="#131722" stroke="#131722" stroke-width="0.15" text-anchor="start" textLength="30.0" lengthAdjust="spacingAndGlyphs">825.0</text>
<text x="1078.2" y="145.4" font-size="11.7" fill="#131722" stroke="#131722" stroke-width="0.15" text-anchor="start" textLength="30.0" lengthAdjust="spacingAndGlyphs">800.0</text>
<text x="1078.2" y="212.9" font-size="11.7" fill="#131722" stroke="#131722" stroke-width="0.15" text-anchor="start" textLength="30.0" lengthAdjust="spacingAndGlyphs">750.0</text>
<text x="1078.2" y="246.7" font-size="11.7" fill="#131722" stroke="#131722" stroke-width="0.15" text-anchor="start" textLength="30.0" lengthAdjust="spacingAndGlyphs">725.0</text>
<text x="1078.2" y="280.4" font-size="11.7" fill="#131722" stroke="#131722" stroke-width="0.15" text-anchor="start" textLength="30.0" lengthAdjust="spacingAndGlyphs">700.0</text>
<text x="1078.2" y="314.2" font-size="11.7" fill="#131722" stroke="#131722" stroke-width="0.15" text-anchor="start" textLength="30.0" lengthAdjust="spacingAndGlyphs">675.0</text>
<text x="1078.3" y="382.2" font-size="11.7" fill="#131722" stroke="#131722" stroke-width="0.15" text-anchor="start" textLength="36.0" lengthAdjust="spacingAndGlyphs">200.00</text>
<text x="1078.3" y="421.2" font-size="11.7" fill="#131722" stroke="#131722" stroke-width="0.15" text-anchor="start" textLength="23.2" lengthAdjust="spacingAndGlyphs">0.00</text>
<text x="1078.3" y="460.2" font-size="11.7" fill="#131722" stroke="#131722" stroke-width="0.15" text-anchor="start" textLength="42.0" lengthAdjust="spacingAndGlyphs">−200.00</text>
<text x="1078.3" y="503.9" font-size="11.7" fill="#131722" stroke="#131722" stroke-width="0.15" text-anchor="start" textLength="42.0" lengthAdjust="spacingAndGlyphs">60.0000</text>
<text x="1078.3" y="537.2" font-size="11.7" fill="#131722" stroke="#131722" stroke-width="0.15" text-anchor="start" textLength="42.0" lengthAdjust="spacingAndGlyphs">40.0000</text>
<text x="1078.3" y="570.2" font-size="11.7" fill="#131722" stroke="#131722" stroke-width="0.15" text-anchor="start" textLength="42.0" lengthAdjust="spacingAndGlyphs">20.0000</text>
<text x="1078.0" y="603.5" font-size="11.7" fill="#131722" stroke="#131722" stroke-width="0.15" text-anchor="start" textLength="36.0" lengthAdjust="spacingAndGlyphs">0.0000</text>
<rect x="1073.2" y="31.2" width="54.3" height="25.2" rx="3.8" fill="#fff" stroke="#e7e9ed" stroke-width="1.1"/>
<text x="1082.2" y="47.9" font-size="11.7" fill="#131722" stroke="#131722" stroke-width="0.15" text-anchor="start" textLength="20.8" lengthAdjust="spacingAndGlyphs">USD</text>
<path d="M1020,148.4H1069.2V165.1H1020a2.2,2.2 0 0 1 -2.2,-2.2V150.6a2.2,2.2 0 0 1 2.2,-2.2Z" fill="#089981"/>
<path d="M1069.9,148.4H1110.8a2,2 0 0 1 2,2V177.7a2,2 0 0 1 -2,2H1069.9Z" fill="#089981"/>
<text x="1022.5" y="161.0" font-size="11.7" fill="#fff" stroke="#fff" stroke-width="0.15" text-anchor="start" textLength="42.6" lengthAdjust="spacingAndGlyphs">BNBUSD</text>
<text x="1079.3" y="161.0" font-size="11.7" fill="#fff" stroke="#fff" stroke-width="0.15" text-anchor="start" textLength="29.5" lengthAdjust="spacingAndGlyphs">788.5</text>
<text x="1079.3" y="175.0" font-size="11.7" fill="#d8efea" stroke="#d8efea" stroke-width="0.15" text-anchor="start" textLength="29.5" lengthAdjust="spacingAndGlyphs">18:18</text>
<path d="M1069.9,220.8H1110.2a2,2 0 0 1 2,2V234.9a2,2 0 0 1 -2,2H1069.9Z" fill="#5e35b1"/>
<text x="1078.6" y="233.2" font-size="11.7" fill="#fff" stroke="#fff" stroke-width="0.15" text-anchor="start" textLength="29.6" lengthAdjust="spacingAndGlyphs">735.7</text>
<path d="M1069.7,572.4H1124.5a2,2 0 0 1 2,2V587a2,2 0 0 1 -2,2H1069.7Z" fill="#5e35b1"/>
<text x="1078.6" y="585.0" font-size="11.7" fill="#fff" stroke="#fff" stroke-width="0.15" text-anchor="start" textLength="42.0" lengthAdjust="spacingAndGlyphs">11.1736</text>
<text x="16.6" y="623.8" font-size="11.7" fill="#131722" stroke="#131722" stroke-width="0.25" text-anchor="start" textLength="12.0" lengthAdjust="spacingAndGlyphs">16</text>
<text x="98.5" y="623.8" font-size="11.7" fill="#131722" stroke="#131722" stroke-width="0.25" text-anchor="start" textLength="12.0" lengthAdjust="spacingAndGlyphs">18</text>
<text x="180.4" y="623.8" font-size="11.7" fill="#131722" stroke="#131722" stroke-width="0.25" text-anchor="start" textLength="12.0" lengthAdjust="spacingAndGlyphs">20</text>
<text x="262.4" y="623.8" font-size="11.7" fill="#131722" stroke="#131722" stroke-width="0.25" text-anchor="start" textLength="12.0" lengthAdjust="spacingAndGlyphs">22</text>
<text x="344.3" y="623.8" font-size="11.7" fill="#131722" stroke="#131722" stroke-width="0.25" text-anchor="start" textLength="12.0" lengthAdjust="spacingAndGlyphs">24</text>
<text x="426.2" y="623.8" font-size="11.7" fill="#131722" stroke="#131722" stroke-width="0.25" text-anchor="start" textLength="12.0" lengthAdjust="spacingAndGlyphs">26</text>
<text x="508.1" y="623.8" font-size="11.7" fill="#131722" stroke="#131722" stroke-width="0.25" text-anchor="start" textLength="12.0" lengthAdjust="spacingAndGlyphs">28</text>
<text x="590.0" y="623.8" font-size="11.7" fill="#131722" stroke="#131722" stroke-width="0.25" text-anchor="start" textLength="12.0" lengthAdjust="spacingAndGlyphs">30</text>
<text x="667.6" y="623.8" font-size="11.7" fill="#131722" stroke="#131722" stroke-width="0" text-anchor="start" textLength="20.8" lengthAdjust="spacingAndGlyphs" font-weight="bold">Aug</text>
<text x="756.8" y="623.8" font-size="11.7" fill="#131722" stroke="#131722" stroke-width="0.25" text-anchor="start" textLength="6.2" lengthAdjust="spacingAndGlyphs">3</text>
<text x="838.7" y="623.8" font-size="11.7" fill="#131722" stroke="#131722" stroke-width="0.25" text-anchor="start" textLength="6.2" lengthAdjust="spacingAndGlyphs">5</text>
<text x="920.6" y="623.8" font-size="11.7" fill="#131722" stroke="#131722" stroke-width="0.25" text-anchor="start" textLength="6.2" lengthAdjust="spacingAndGlyphs">7</text>
<text x="1002.5" y="623.8" font-size="11.7" fill="#131722" stroke="#131722" stroke-width="0.25" text-anchor="start" textLength="6.2" lengthAdjust="spacingAndGlyphs">9</text>
<g fill="none" stroke="#9c27b0" stroke-width="1.45" stroke-linecap="round">
<path d="M977.80,324.04A9.95,9.95 0 0 1 990.69,317.04"/>
<path d="M997.06,323.87A9.95,9.95 0 0 1 980.17,333.24"/>
</g>
<path d="M989.95,321.2L982.7,327.3L986.8,327.05L983.7,332.05L991.3,325.95L987.6,326.2Z" fill="#9c27b0" stroke="#9c27b0" stroke-width=".5" stroke-linejoin="round"/>
<circle cx="993.95" cy="319.55" r="2.55" fill="#f23645"/>
<path d="M976.4,324.9Q977.35,328.95 981.4,329.9Q977.35,330.85 976.4,334.9Q975.45,330.85 971.4,329.9Q975.45,328.95 976.4,324.9Z" fill="#6c47ff"/>
</svg>
</body></html>
